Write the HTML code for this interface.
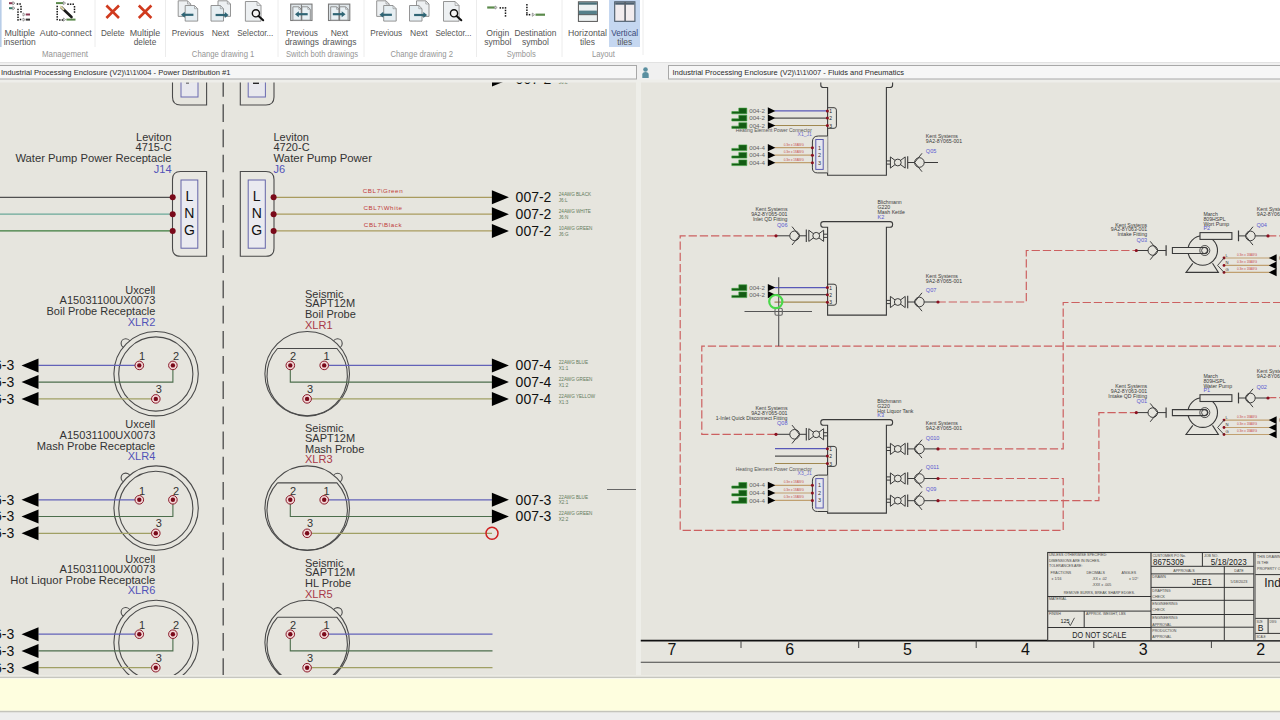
<!DOCTYPE html>
<html><head><meta charset="utf-8"><title>Drawing</title>
<style>
html,body{margin:0;padding:0;background:#fff;}
body{width:1280px;height:720px;overflow:hidden;position:relative;font-family:"Liberation Sans", sans-serif;}
svg{position:absolute;left:0;top:0;}
text{font-family:"Liberation Sans", sans-serif;}
</style></head><body>
<svg width="1280" height="720" viewBox="0 0 1280 720">
<rect x="0" y="0" width="1280" height="62" fill="#ffffff" stroke="none" stroke-width="1" />
<rect x="0" y="62" width="1280" height="18" fill="#f0f0f0" stroke="none" stroke-width="1" />
<line x1="0" y1="62.5" x2="1280" y2="62.5" stroke="#e2e2e2" stroke-width="1" />
<rect x="0" y="80" width="636" height="596" fill="#e6e5de" stroke="none" stroke-width="1" />
<rect x="636" y="80" width="4.5" height="596" fill="#eeeee9" stroke="none" stroke-width="1" />
<rect x="640.5" y="80" width="640" height="596" fill="#e6e5de" stroke="none" stroke-width="1" />
<rect x="0" y="79.5" width="1280" height="3" fill="#eeeeea" stroke="none" stroke-width="1" />
<rect x="0" y="675" width="1280" height="1.6" fill="#ecebe4" stroke="none" stroke-width="1" />
<rect x="0" y="676.6" width="1280" height="1.4" fill="#c6c6be" stroke="none" stroke-width="1" />
<rect x="0" y="678" width="1280" height="1" fill="#f8f8ee" stroke="none" stroke-width="1" />
<rect x="0" y="679" width="1280" height="31.8" fill="#fefedf" stroke="none" stroke-width="1" />
<rect x="0" y="710.8" width="1280" height="1.8" fill="#c4c4bc" stroke="none" stroke-width="1" />
<rect x="0" y="712.6" width="1280" height="7.4" fill="#eeeeee" stroke="none" stroke-width="1" />
<rect x="0" y="0" width="1.6" height="47" fill="#b8cde8" stroke="none" stroke-width="1" />
<rect x="609" y="0" width="31" height="47" fill="#c5d7f0" stroke="none" stroke-width="1" />
<line x1="95" y1="0" x2="95" y2="47" stroke="#ececec" stroke-width="1" />
<line x1="165.5" y1="0" x2="165.5" y2="57" stroke="#ececec" stroke-width="1" />
<line x1="278" y1="0" x2="278" y2="57" stroke="#ececec" stroke-width="1" />
<line x1="364" y1="0" x2="364" y2="57" stroke="#ececec" stroke-width="1" />
<line x1="476.5" y1="0" x2="476.5" y2="57" stroke="#ececec" stroke-width="1" />
<line x1="562" y1="0" x2="562" y2="57" stroke="#ececec" stroke-width="1" />
<line x1="643" y1="0" x2="643" y2="55" stroke="#ececec" stroke-width="1" />
<text x="19.7" y="35.9" font-size="9" fill="#555555" text-anchor="middle" textLength="30.6" lengthAdjust="spacingAndGlyphs">Multiple</text>
<text x="19.7" y="44.9" font-size="9" fill="#555555" text-anchor="middle" textLength="32" lengthAdjust="spacingAndGlyphs">insertion</text>
<text x="65.8" y="35.9" font-size="9" fill="#555555" text-anchor="middle" textLength="52" lengthAdjust="spacingAndGlyphs">Auto-connect</text>
<text x="112.7" y="35.9" font-size="9" fill="#555555" text-anchor="middle" textLength="23.5" lengthAdjust="spacingAndGlyphs">Delete</text>
<text x="145" y="35.9" font-size="9" fill="#555555" text-anchor="middle" textLength="30.6" lengthAdjust="spacingAndGlyphs">Multiple</text>
<text x="145" y="44.9" font-size="9" fill="#555555" text-anchor="middle" textLength="22.5" lengthAdjust="spacingAndGlyphs">delete</text>
<text x="187.8" y="35.9" font-size="9" fill="#555555" text-anchor="middle" textLength="31.9" lengthAdjust="spacingAndGlyphs">Previous</text>
<text x="220.4" y="35.9" font-size="9" fill="#555555" text-anchor="middle" textLength="17.5" lengthAdjust="spacingAndGlyphs">Next</text>
<text x="255.2" y="35.9" font-size="9" fill="#555555" text-anchor="middle" textLength="36" lengthAdjust="spacingAndGlyphs">Selector...</text>
<text x="301.9" y="35.9" font-size="9" fill="#555555" text-anchor="middle" textLength="31.9" lengthAdjust="spacingAndGlyphs">Previous</text>
<text x="301.9" y="44.9" font-size="9" fill="#555555" text-anchor="middle" textLength="34" lengthAdjust="spacingAndGlyphs">drawings</text>
<text x="339.4" y="35.9" font-size="9" fill="#555555" text-anchor="middle" textLength="17.5" lengthAdjust="spacingAndGlyphs">Next</text>
<text x="339.4" y="44.9" font-size="9" fill="#555555" text-anchor="middle" textLength="34" lengthAdjust="spacingAndGlyphs">drawings</text>
<text x="386.25" y="35.9" font-size="9" fill="#555555" text-anchor="middle" textLength="31.9" lengthAdjust="spacingAndGlyphs">Previous</text>
<text x="418.75" y="35.9" font-size="9" fill="#555555" text-anchor="middle" textLength="17.5" lengthAdjust="spacingAndGlyphs">Next</text>
<text x="453.4" y="35.9" font-size="9" fill="#555555" text-anchor="middle" textLength="36" lengthAdjust="spacingAndGlyphs">Selector...</text>
<text x="497.8" y="35.9" font-size="9" fill="#555555" text-anchor="middle" textLength="23" lengthAdjust="spacingAndGlyphs">Origin</text>
<text x="497.8" y="44.9" font-size="9" fill="#555555" text-anchor="middle" textLength="27" lengthAdjust="spacingAndGlyphs">symbol</text>
<text x="535.4" y="35.9" font-size="9" fill="#555555" text-anchor="middle" textLength="42" lengthAdjust="spacingAndGlyphs">Destination</text>
<text x="535.4" y="44.9" font-size="9" fill="#555555" text-anchor="middle" textLength="27" lengthAdjust="spacingAndGlyphs">symbol</text>
<text x="587.5" y="35.9" font-size="9" fill="#555555" text-anchor="middle" textLength="39" lengthAdjust="spacingAndGlyphs">Horizontal</text>
<text x="587.5" y="44.9" font-size="9" fill="#555555" text-anchor="middle" textLength="15" lengthAdjust="spacingAndGlyphs">tiles</text>
<text x="624.7" y="35.9" font-size="9" fill="#3a4a7a" text-anchor="middle" textLength="27" lengthAdjust="spacingAndGlyphs">Vertical</text>
<text x="624.7" y="44.9" font-size="9" fill="#555555" text-anchor="middle" textLength="15" lengthAdjust="spacingAndGlyphs">tiles</text>
<text x="65" y="56.5" font-size="9" fill="#959595" text-anchor="middle" textLength="46" lengthAdjust="spacingAndGlyphs">Management</text>
<text x="223.1" y="56.5" font-size="9" fill="#959595" text-anchor="middle" textLength="62.5" lengthAdjust="spacingAndGlyphs">Change drawing 1</text>
<text x="322" y="56.5" font-size="9" fill="#959595" text-anchor="middle" textLength="72" lengthAdjust="spacingAndGlyphs">Switch both drawings</text>
<text x="421.7" y="56.5" font-size="9" fill="#959595" text-anchor="middle" textLength="62.5" lengthAdjust="spacingAndGlyphs">Change drawing 2</text>
<text x="521.25" y="56.5" font-size="9" fill="#959595" text-anchor="middle" textLength="29" lengthAdjust="spacingAndGlyphs">Symbols</text>
<text x="603.4" y="56.5" font-size="9" fill="#959595" text-anchor="middle" textLength="23" lengthAdjust="spacingAndGlyphs">Layout</text>
<defs><clipPath id="clipL"><rect x="0" y="82.5" width="636" height="592.5"/></clipPath><clipPath id="clipR"><rect x="640.5" y="82.5" width="640" height="592.5"/></clipPath></defs>
<rect x="-1" y="65.5" width="637.5" height="13.5" fill="#f6f6f6" stroke="#a8a8a8" stroke-width="1" />
<text x="1" y="75.3" font-size="8.0" fill="#2a2a2a" text-anchor="start" textLength="229.5" lengthAdjust="spacingAndGlyphs">Industrial Processing Enclosure (V2)\1\1\004 - Power Distribution #1</text>
<rect x="668.5" y="65.5" width="620" height="13.5" fill="#f6f6f6" stroke="#a8a8a8" stroke-width="1" />
<text x="672.5" y="75.3" font-size="8.0" fill="#2a2a2a" text-anchor="start" textLength="231.5" lengthAdjust="spacingAndGlyphs">Industrial Processing Enclosure (V2)\1\1\007 - Fluids and Pneumatics</text>
<circle cx="645.5" cy="69.5" r="2.3" fill="#5a8fa0" stroke="none" stroke-width="1" />
<path d="M642.3,78 L642.3,74.5 Q642.3,72 645.5,72 Q648.7,72 648.7,74.5 L648.7,78 Z" stroke="none" stroke-width="1" fill="#5a8fa0" />
<g clip-path="url(#clipL)">
<line x1="223.2" y1="79.1" x2="223.2" y2="676" stroke="#4a4a4a" stroke-width="1.3" stroke-dasharray="17.7 7.48"/>
<path d="M172.5,78 L172.5,97 Q172.5,105 180.5,105 L206.6,105 L206.6,78" stroke="#4a4a4a" stroke-width="1.1" fill="none" />
<rect x="181" y="74" width="17" height="23" fill="#e8e8ee" stroke="#6a6ab0" stroke-width="1" />
<path d="M240.3,78 L240.3,105 L266,105 Q274,105 274,97 L274,78" stroke="#4a4a4a" stroke-width="1.1" fill="none" />
<rect x="248.2" y="74" width="17.2" height="23" fill="#e8e8ee" stroke="#6a6ab0" stroke-width="1" />
<rect x="186" y="82.5" width="3" height="1" fill="#222" stroke="none" stroke-width="1" />
<rect x="253" y="82.3" width="6" height="1.6" fill="#111" stroke="none" stroke-width="1" />
<path d="M492,72.5 L509,79.5 L492,86.5 Z" stroke="none" stroke-width="1" fill="#000" />
<text x="515.6" y="84.4" font-size="14" fill="#111" text-anchor="start" >007-2</text>
<text x="558.8" y="84" font-size="4.6" fill="#5f7a5a" text-anchor="start" >J6:L</text>
<path d="M180.5,256.3 L206.6,256.3 L206.6,171.5 L180.5,171.5 Q172.5,171.5 172.5,179.5 L172.5,248.3 Q172.5,256.3 180.5,256.3 Z" stroke="#4a4a4a" stroke-width="1.1" fill="#e8e7e1" />
<rect x="181" y="180" width="16.8" height="68.2" fill="#eaeaf0" stroke="#6464a8" stroke-width="1" />
<text x="189.4" y="201" font-size="14" fill="#111" text-anchor="middle" >L</text>
<text x="189.4" y="217.8" font-size="14" fill="#111" text-anchor="middle" >N</text>
<text x="189.4" y="234.7" font-size="14" fill="#111" text-anchor="middle" >G</text>
<text x="171.6" y="141" font-size="11" fill="#333333" text-anchor="end" >Leviton</text>
<text x="171.6" y="150.9" font-size="11" fill="#333333" text-anchor="end" >4715-C</text>
<text x="171.6" y="162.1" font-size="11.2" fill="#333333" text-anchor="end" textLength="156.2" lengthAdjust="spacingAndGlyphs">Water Pump Power Receptacle</text>
<text x="171.6" y="172.8" font-size="11" fill="#5252b8" text-anchor="end" >J14</text>
<line x1="0" y1="197.3" x2="172.5" y2="197.3" stroke="#505050" stroke-width="1.2" />
<line x1="0" y1="214.2" x2="172.5" y2="214.2" stroke="#6aa898" stroke-width="1.2" />
<line x1="0" y1="230.9" x2="172.5" y2="230.9" stroke="#3b7b3b" stroke-width="1.4" />
<circle cx="172.7" cy="197.3" r="3" fill="#7a0a1a" stroke="none" stroke-width="1" />
<circle cx="172.7" cy="214.2" r="3" fill="#7a0a1a" stroke="none" stroke-width="1" />
<circle cx="172.7" cy="230.9" r="3" fill="#7a0a1a" stroke="none" stroke-width="1" />
<path d="M240.3,171.5 L266,171.5 Q274,171.5 274,179.5 L274,248.3 Q274,256.3 266,256.3 L240.3,256.3 Z" stroke="#4a4a4a" stroke-width="1.1" fill="#e8e7e1" />
<rect x="248.2" y="180" width="17.1" height="68.2" fill="#eaeaf0" stroke="#6464a8" stroke-width="1" />
<text x="256.7" y="201" font-size="14" fill="#111" text-anchor="middle" >L</text>
<text x="256.7" y="217.8" font-size="14" fill="#111" text-anchor="middle" >N</text>
<text x="256.7" y="234.7" font-size="14" fill="#111" text-anchor="middle" >G</text>
<text x="273.5" y="141" font-size="11" fill="#333333" text-anchor="start" >Leviton</text>
<text x="273.5" y="150.9" font-size="11" fill="#333333" text-anchor="start" >4720-C</text>
<text x="273.5" y="162.1" font-size="11.2" fill="#333333" text-anchor="start" textLength="98.5" lengthAdjust="spacingAndGlyphs">Water Pump Power</text>
<text x="273.5" y="172.8" font-size="11" fill="#5252b8" text-anchor="start" >J6</text>
<line x1="274" y1="197.3" x2="492" y2="197.3" stroke="#a99b5e" stroke-width="1.25" />
<circle cx="273.6" cy="197.3" r="3" fill="#7a0a1a" stroke="none" stroke-width="1" />
<text x="383" y="193.0" font-size="6.2" fill="#c03838" text-anchor="middle" letter-spacing="0.6">CBL7\Green</text>
<line x1="274" y1="214.2" x2="492" y2="214.2" stroke="#a99b5e" stroke-width="1.25" />
<circle cx="273.6" cy="214.2" r="3" fill="#7a0a1a" stroke="none" stroke-width="1" />
<text x="383" y="209.89999999999998" font-size="6.2" fill="#c03838" text-anchor="middle" letter-spacing="0.6">CBL7\White</text>
<line x1="274" y1="230.9" x2="492" y2="230.9" stroke="#a99b5e" stroke-width="1.25" />
<circle cx="273.6" cy="230.9" r="3" fill="#7a0a1a" stroke="none" stroke-width="1" />
<text x="383" y="226.6" font-size="6.2" fill="#c03838" text-anchor="middle" letter-spacing="0.6">CBL7\Black</text>
<path d="M491.9,190.3 L508.9,197.3 L491.9,204.3 Z" stroke="none" stroke-width="1" fill="#000" />
<text x="515.6" y="202.20000000000002" font-size="14" fill="#111" text-anchor="start" >007-2</text>
<text x="558.8" y="196.0" font-size="4.6" fill="#5f7a5a" text-anchor="start" >24AWG BLACK</text>
<text x="558.8" y="201.9" font-size="4.6" fill="#5f7a5a" text-anchor="start" >J6:L</text>
<path d="M491.9,207.2 L508.9,214.2 L491.9,221.2 Z" stroke="none" stroke-width="1" fill="#000" />
<text x="515.6" y="219.1" font-size="14" fill="#111" text-anchor="start" >007-2</text>
<text x="558.8" y="212.89999999999998" font-size="4.6" fill="#5f7a5a" text-anchor="start" >24AWG WHITE</text>
<text x="558.8" y="218.79999999999998" font-size="4.6" fill="#5f7a5a" text-anchor="start" >J6:N</text>
<path d="M491.9,223.9 L508.9,230.9 L491.9,237.9 Z" stroke="none" stroke-width="1" fill="#000" />
<text x="515.6" y="235.8" font-size="14" fill="#111" text-anchor="start" >007-2</text>
<text x="558.8" y="229.6" font-size="4.6" fill="#5f7a5a" text-anchor="start" >10AWG GREEN</text>
<text x="558.8" y="235.5" font-size="4.6" fill="#5f7a5a" text-anchor="start" >J6:G</text>
<circle cx="125.69999999999999" cy="343.3" r="4.6" fill="none" stroke="#4a4a4a" stroke-width="1.1" />
<circle cx="156.1" cy="373.7" r="42.2" fill="#e6e5de" stroke="#4a4a4a" stroke-width="1.1" />
<circle cx="155.79999999999998" cy="374.0" r="37.1" fill="none" stroke="#4a4a4a" stroke-width="1.1" />
<line x1="38.4" y1="365.4" x2="139.3" y2="365.4" stroke="#6262b8" stroke-width="1.2" />
<path d="M38.4,382.1 L172.9,382.1 L172.9,365.4" stroke="#4c6e4c" stroke-width="1.1" fill="none" />
<line x1="38.4" y1="398.9" x2="155.8" y2="398.9" stroke="#a0a064" stroke-width="1.2" />
<circle cx="139.3" cy="365.4" r="4.3" fill="#f2d6d6" stroke="#8a1a2a" stroke-width="1" />
<circle cx="139.3" cy="365.4" r="2.2" fill="#7a0a1a" stroke="none" stroke-width="1" />
<circle cx="172.9" cy="365.4" r="4.3" fill="#f2d6d6" stroke="#8a1a2a" stroke-width="1" />
<circle cx="172.9" cy="365.4" r="2.2" fill="#7a0a1a" stroke="none" stroke-width="1" />
<circle cx="155.8" cy="398.9" r="4.3" fill="#f2d6d6" stroke="#8a1a2a" stroke-width="1" />
<circle cx="155.8" cy="398.9" r="2.2" fill="#7a0a1a" stroke="none" stroke-width="1" />
<text x="142" y="360.4" font-size="11" fill="#333333" text-anchor="middle" >1</text>
<text x="176" y="360.4" font-size="11" fill="#333333" text-anchor="middle" >2</text>
<text x="158.8" y="393" font-size="11" fill="#333333" text-anchor="middle" >3</text>
<path d="M21.5,365.4 L38.5,358.4 L38.5,372.4 Z" stroke="none" stroke-width="1" fill="#000" />
<text x="14.2" y="370.29999999999995" font-size="14" fill="#111" text-anchor="end" >006-3</text>
<path d="M21.5,382.1 L38.5,375.1 L38.5,389.1 Z" stroke="none" stroke-width="1" fill="#000" />
<text x="14.2" y="387.0" font-size="14" fill="#111" text-anchor="end" >006-3</text>
<path d="M21.5,398.9 L38.5,391.9 L38.5,405.9 Z" stroke="none" stroke-width="1" fill="#000" />
<text x="14.2" y="403.79999999999995" font-size="14" fill="#111" text-anchor="end" >006-3</text>
<text x="155.3" y="294" font-size="11" fill="#333333" text-anchor="end" >Uxcell</text>
<text x="155.3" y="304.4" font-size="11" fill="#333333" text-anchor="end" textLength="95.7" lengthAdjust="spacingAndGlyphs">A15031100UX0073</text>
<text x="155.3" y="315.3" font-size="11" fill="#333333" text-anchor="end" textLength="108.8" lengthAdjust="spacingAndGlyphs">Boil Probe Receptacle</text>
<text x="155.3" y="325.6" font-size="11" fill="#5252b8" text-anchor="end" >XLR2</text>
<circle cx="337.59999999999997" cy="343.40000000000003" r="4.6" fill="none" stroke="#4a4a4a" stroke-width="1.1" />
<circle cx="307.2" cy="373.8" r="42.3" fill="#e6e5de" stroke="#4a4a4a" stroke-width="1.1" />
<path d="M277.4598015371221,348.5 L336.9401984628779,348.5 A40.2,40.2 0 1 1 277.4598015371221,348.5" stroke="#4a4a4a" stroke-width="1.1" fill="none" />
<line x1="324.2" y1="365.4" x2="492" y2="365.4" stroke="#6262b8" stroke-width="1.2" />
<path d="M290.3,365.4 L290.3,382.1 L492,382.1" stroke="#4c6e4c" stroke-width="1.1" fill="none" />
<line x1="307.1" y1="398.9" x2="492" y2="398.9" stroke="#a0a064" stroke-width="1.2" />
<circle cx="290.3" cy="365.4" r="4.3" fill="#f2d6d6" stroke="#8a1a2a" stroke-width="1" />
<circle cx="290.3" cy="365.4" r="2.2" fill="#7a0a1a" stroke="none" stroke-width="1" />
<circle cx="324.2" cy="365.4" r="4.3" fill="#f2d6d6" stroke="#8a1a2a" stroke-width="1" />
<circle cx="324.2" cy="365.4" r="2.2" fill="#7a0a1a" stroke="none" stroke-width="1" />
<circle cx="307.1" cy="398.9" r="4.3" fill="#f2d6d6" stroke="#8a1a2a" stroke-width="1" />
<circle cx="307.1" cy="398.9" r="2.2" fill="#7a0a1a" stroke="none" stroke-width="1" />
<text x="293" y="360.4" font-size="11" fill="#333333" text-anchor="middle" >2</text>
<text x="326.6" y="360.4" font-size="11" fill="#333333" text-anchor="middle" >1</text>
<text x="310" y="393" font-size="11" fill="#333333" text-anchor="middle" >3</text>
<text x="305" y="297.8" font-size="11" fill="#333333" text-anchor="start" >Seismic</text>
<text x="305" y="307.2" font-size="11" fill="#333333" text-anchor="start" >SAPT12M</text>
<text x="305" y="318.4" font-size="11" fill="#333333" text-anchor="start" >Boil Probe</text>
<text x="305" y="328.8" font-size="11" fill="#a83848" text-anchor="start" >XLR1</text>
<path d="M491.9,358.4 L508.9,365.4 L491.9,372.4 Z" stroke="none" stroke-width="1" fill="#000" />
<text x="515.6" y="370.29999999999995" font-size="14" fill="#111" text-anchor="start" >007-4</text>
<text x="558.8" y="364.09999999999997" font-size="4.6" fill="#5f7a5a" text-anchor="start" >22AWG BLUE</text>
<text x="558.8" y="370.0" font-size="4.6" fill="#5f7a5a" text-anchor="start" >X1:1</text>
<path d="M491.9,375.1 L508.9,382.1 L491.9,389.1 Z" stroke="none" stroke-width="1" fill="#000" />
<text x="515.6" y="387.0" font-size="14" fill="#111" text-anchor="start" >007-4</text>
<text x="558.8" y="380.8" font-size="4.6" fill="#5f7a5a" text-anchor="start" >22AWG GREEN</text>
<text x="558.8" y="386.70000000000005" font-size="4.6" fill="#5f7a5a" text-anchor="start" >X1:2</text>
<path d="M491.9,391.9 L508.9,398.9 L491.9,405.9 Z" stroke="none" stroke-width="1" fill="#000" />
<text x="515.6" y="403.79999999999995" font-size="14" fill="#111" text-anchor="start" >007-4</text>
<text x="558.8" y="397.59999999999997" font-size="4.6" fill="#5f7a5a" text-anchor="start" >22AWG YELLOW</text>
<text x="558.8" y="403.5" font-size="4.6" fill="#5f7a5a" text-anchor="start" >X1:3</text>
<circle cx="125.69999999999999" cy="477.70000000000005" r="4.6" fill="none" stroke="#4a4a4a" stroke-width="1.1" />
<circle cx="156.1" cy="508.1" r="42.2" fill="#e6e5de" stroke="#4a4a4a" stroke-width="1.1" />
<circle cx="155.79999999999998" cy="508.40000000000003" r="37.1" fill="none" stroke="#4a4a4a" stroke-width="1.1" />
<line x1="38.4" y1="499.79999999999995" x2="139.3" y2="499.79999999999995" stroke="#6262b8" stroke-width="1.2" />
<path d="M38.4,516.5 L172.9,516.5 L172.9,499.79999999999995" stroke="#4c6e4c" stroke-width="1.1" fill="none" />
<line x1="38.4" y1="533.3" x2="155.8" y2="533.3" stroke="#a0a064" stroke-width="1.2" />
<circle cx="139.3" cy="499.79999999999995" r="4.3" fill="#f2d6d6" stroke="#8a1a2a" stroke-width="1" />
<circle cx="139.3" cy="499.79999999999995" r="2.2" fill="#7a0a1a" stroke="none" stroke-width="1" />
<circle cx="172.9" cy="499.79999999999995" r="4.3" fill="#f2d6d6" stroke="#8a1a2a" stroke-width="1" />
<circle cx="172.9" cy="499.79999999999995" r="2.2" fill="#7a0a1a" stroke="none" stroke-width="1" />
<circle cx="155.8" cy="533.3" r="4.3" fill="#f2d6d6" stroke="#8a1a2a" stroke-width="1" />
<circle cx="155.8" cy="533.3" r="2.2" fill="#7a0a1a" stroke="none" stroke-width="1" />
<text x="142" y="494.79999999999995" font-size="11" fill="#333333" text-anchor="middle" >1</text>
<text x="176" y="494.79999999999995" font-size="11" fill="#333333" text-anchor="middle" >2</text>
<text x="158.8" y="527.4" font-size="11" fill="#333333" text-anchor="middle" >3</text>
<path d="M21.5,499.79999999999995 L38.5,492.79999999999995 L38.5,506.79999999999995 Z" stroke="none" stroke-width="1" fill="#000" />
<text x="14.2" y="504.69999999999993" font-size="14" fill="#111" text-anchor="end" >006-3</text>
<path d="M21.5,516.5 L38.5,509.5 L38.5,523.5 Z" stroke="none" stroke-width="1" fill="#000" />
<text x="14.2" y="521.4" font-size="14" fill="#111" text-anchor="end" >006-3</text>
<path d="M21.5,533.3 L38.5,526.3 L38.5,540.3 Z" stroke="none" stroke-width="1" fill="#000" />
<text x="14.2" y="538.1999999999999" font-size="14" fill="#111" text-anchor="end" >006-3</text>
<text x="155.3" y="428.4" font-size="11" fill="#333333" text-anchor="end" >Uxcell</text>
<text x="155.3" y="438.79999999999995" font-size="11" fill="#333333" text-anchor="end" textLength="95.7" lengthAdjust="spacingAndGlyphs">A15031100UX0073</text>
<text x="155.3" y="449.70000000000005" font-size="11" fill="#333333" text-anchor="end" textLength="118.5" lengthAdjust="spacingAndGlyphs">Mash Probe Receptacle</text>
<text x="155.3" y="460.0" font-size="11" fill="#5252b8" text-anchor="end" >XLR4</text>
<circle cx="337.59999999999997" cy="477.80000000000007" r="4.6" fill="none" stroke="#4a4a4a" stroke-width="1.1" />
<circle cx="307.2" cy="508.20000000000005" r="42.3" fill="#e6e5de" stroke="#4a4a4a" stroke-width="1.1" />
<path d="M277.4598015371221,482.90000000000003 L336.9401984628779,482.90000000000003 A40.2,40.2 0 1 1 277.4598015371221,482.90000000000003" stroke="#4a4a4a" stroke-width="1.1" fill="none" />
<line x1="324.2" y1="499.79999999999995" x2="492" y2="499.79999999999995" stroke="#6262b8" stroke-width="1.2" />
<path d="M290.3,499.79999999999995 L290.3,516.5 L492,516.5" stroke="#4c6e4c" stroke-width="1.1" fill="none" />
<line x1="307.1" y1="533.3" x2="492" y2="533.3" stroke="#a0a064" stroke-width="1.2" />
<circle cx="290.3" cy="499.79999999999995" r="4.3" fill="#f2d6d6" stroke="#8a1a2a" stroke-width="1" />
<circle cx="290.3" cy="499.79999999999995" r="2.2" fill="#7a0a1a" stroke="none" stroke-width="1" />
<circle cx="324.2" cy="499.79999999999995" r="4.3" fill="#f2d6d6" stroke="#8a1a2a" stroke-width="1" />
<circle cx="324.2" cy="499.79999999999995" r="2.2" fill="#7a0a1a" stroke="none" stroke-width="1" />
<circle cx="307.1" cy="533.3" r="4.3" fill="#f2d6d6" stroke="#8a1a2a" stroke-width="1" />
<circle cx="307.1" cy="533.3" r="2.2" fill="#7a0a1a" stroke="none" stroke-width="1" />
<text x="293" y="494.79999999999995" font-size="11" fill="#333333" text-anchor="middle" >2</text>
<text x="326.6" y="494.79999999999995" font-size="11" fill="#333333" text-anchor="middle" >1</text>
<text x="310" y="527.4" font-size="11" fill="#333333" text-anchor="middle" >3</text>
<text x="305" y="432.20000000000005" font-size="11" fill="#333333" text-anchor="start" >Seismic</text>
<text x="305" y="441.6" font-size="11" fill="#333333" text-anchor="start" >SAPT12M</text>
<text x="305" y="452.79999999999995" font-size="11" fill="#333333" text-anchor="start" >Mash Probe</text>
<text x="305" y="463.20000000000005" font-size="11" fill="#a83848" text-anchor="start" >XLR3</text>
<path d="M491.9,492.79999999999995 L508.9,499.79999999999995 L491.9,506.79999999999995 Z" stroke="none" stroke-width="1" fill="#000" />
<text x="515.6" y="504.69999999999993" font-size="14" fill="#111" text-anchor="start" >007-3</text>
<text x="558.8" y="498.49999999999994" font-size="4.6" fill="#5f7a5a" text-anchor="start" >22AWG BLUE</text>
<text x="558.8" y="504.4" font-size="4.6" fill="#5f7a5a" text-anchor="start" >X2:1</text>
<path d="M491.9,509.5 L508.9,516.5 L491.9,523.5 Z" stroke="none" stroke-width="1" fill="#000" />
<text x="515.6" y="521.4" font-size="14" fill="#111" text-anchor="start" >007-3</text>
<text x="558.8" y="515.2" font-size="4.6" fill="#5f7a5a" text-anchor="start" >22AWG GREEN</text>
<text x="558.8" y="521.1" font-size="4.6" fill="#5f7a5a" text-anchor="start" >X2:2</text>
<circle cx="492" cy="533.3" r="6" fill="none" stroke="#d02020" stroke-width="1.5" />
<circle cx="125.69999999999999" cy="612.1" r="4.6" fill="none" stroke="#4a4a4a" stroke-width="1.1" />
<circle cx="156.1" cy="642.5" r="42.2" fill="#e6e5de" stroke="#4a4a4a" stroke-width="1.1" />
<circle cx="155.79999999999998" cy="642.8" r="37.1" fill="none" stroke="#4a4a4a" stroke-width="1.1" />
<line x1="38.4" y1="634.2" x2="139.3" y2="634.2" stroke="#6262b8" stroke-width="1.2" />
<path d="M38.4,650.9000000000001 L172.9,650.9000000000001 L172.9,634.2" stroke="#4c6e4c" stroke-width="1.1" fill="none" />
<line x1="38.4" y1="667.7" x2="155.8" y2="667.7" stroke="#a0a064" stroke-width="1.2" />
<circle cx="139.3" cy="634.2" r="4.3" fill="#f2d6d6" stroke="#8a1a2a" stroke-width="1" />
<circle cx="139.3" cy="634.2" r="2.2" fill="#7a0a1a" stroke="none" stroke-width="1" />
<circle cx="172.9" cy="634.2" r="4.3" fill="#f2d6d6" stroke="#8a1a2a" stroke-width="1" />
<circle cx="172.9" cy="634.2" r="2.2" fill="#7a0a1a" stroke="none" stroke-width="1" />
<circle cx="155.8" cy="667.7" r="4.3" fill="#f2d6d6" stroke="#8a1a2a" stroke-width="1" />
<circle cx="155.8" cy="667.7" r="2.2" fill="#7a0a1a" stroke="none" stroke-width="1" />
<text x="142" y="629.2" font-size="11" fill="#333333" text-anchor="middle" >1</text>
<text x="176" y="629.2" font-size="11" fill="#333333" text-anchor="middle" >2</text>
<text x="158.8" y="661.8" font-size="11" fill="#333333" text-anchor="middle" >3</text>
<path d="M21.5,634.2 L38.5,627.2 L38.5,641.2 Z" stroke="none" stroke-width="1" fill="#000" />
<text x="14.2" y="639.1" font-size="14" fill="#111" text-anchor="end" >006-3</text>
<path d="M21.5,650.9000000000001 L38.5,643.9000000000001 L38.5,657.9000000000001 Z" stroke="none" stroke-width="1" fill="#000" />
<text x="14.2" y="655.8000000000001" font-size="14" fill="#111" text-anchor="end" >006-3</text>
<path d="M21.5,667.7 L38.5,660.7 L38.5,674.7 Z" stroke="none" stroke-width="1" fill="#000" />
<text x="14.2" y="672.6" font-size="14" fill="#111" text-anchor="end" >006-3</text>
<text x="155.3" y="562.8" font-size="11" fill="#333333" text-anchor="end" >Uxcell</text>
<text x="155.3" y="573.2" font-size="11" fill="#333333" text-anchor="end" textLength="95.7" lengthAdjust="spacingAndGlyphs">A15031100UX0073</text>
<text x="155.3" y="584.1" font-size="11" fill="#333333" text-anchor="end" textLength="145" lengthAdjust="spacingAndGlyphs">Hot Liquor Probe Receptacle</text>
<text x="155.3" y="594.4000000000001" font-size="11" fill="#5252b8" text-anchor="end" >XLR6</text>
<circle cx="337.59999999999997" cy="612.2" r="4.6" fill="none" stroke="#4a4a4a" stroke-width="1.1" />
<circle cx="307.2" cy="642.6" r="42.3" fill="#e6e5de" stroke="#4a4a4a" stroke-width="1.1" />
<path d="M277.4598015371221,617.3000000000001 L336.9401984628779,617.3000000000001 A40.2,40.2 0 1 1 277.4598015371221,617.3000000000001" stroke="#4a4a4a" stroke-width="1.1" fill="none" />
<line x1="324.2" y1="634.2" x2="492.5" y2="634.2" stroke="#6262b8" stroke-width="1.2" />
<path d="M290.3,634.2 L290.3,650.9000000000001 L492.5,650.9000000000001" stroke="#4c6e4c" stroke-width="1.1" fill="none" />
<line x1="307.1" y1="667.7" x2="492.5" y2="667.7" stroke="#a0a064" stroke-width="1.2" />
<circle cx="290.3" cy="634.2" r="4.3" fill="#f2d6d6" stroke="#8a1a2a" stroke-width="1" />
<circle cx="290.3" cy="634.2" r="2.2" fill="#7a0a1a" stroke="none" stroke-width="1" />
<circle cx="324.2" cy="634.2" r="4.3" fill="#f2d6d6" stroke="#8a1a2a" stroke-width="1" />
<circle cx="324.2" cy="634.2" r="2.2" fill="#7a0a1a" stroke="none" stroke-width="1" />
<circle cx="307.1" cy="667.7" r="4.3" fill="#f2d6d6" stroke="#8a1a2a" stroke-width="1" />
<circle cx="307.1" cy="667.7" r="2.2" fill="#7a0a1a" stroke="none" stroke-width="1" />
<text x="293" y="629.2" font-size="11" fill="#333333" text-anchor="middle" >2</text>
<text x="326.6" y="629.2" font-size="11" fill="#333333" text-anchor="middle" >1</text>
<text x="310" y="661.8" font-size="11" fill="#333333" text-anchor="middle" >3</text>
<text x="305" y="566.6" font-size="11" fill="#333333" text-anchor="start" >Seismic</text>
<text x="305" y="576.0" font-size="11" fill="#333333" text-anchor="start" >SAPT12M</text>
<text x="305" y="587.2" font-size="11" fill="#333333" text-anchor="start" >HL Probe</text>
<text x="305" y="597.6" font-size="11" fill="#a83848" text-anchor="start" >XLR5</text>
<line x1="607" y1="489.5" x2="637" y2="489.5" stroke="#666" stroke-width="1" />
</g>
<g clip-path="url(#clipR)">
<path d="M775.3,235.8 L680.2,235.8 L680.2,530.3 L1063.2,530.3 L1063.2,478.5 L937.8,478.5" stroke="#cc6060" stroke-width="1.2" fill="none" stroke-dasharray="8.3 2.9"/>
<path d="M937.8,448.9 L1063.2,448.9 L1063.2,302.5 L1290,302.5" stroke="#cc6060" stroke-width="1.2" fill="none" stroke-dasharray="8.3 2.9"/>
<path d="M775.6,434.4 L701.8,434.4 L701.8,346.2 L1290,346.2" stroke="#cc6060" stroke-width="1.2" fill="none" stroke-dasharray="8.3 2.9"/>
<path d="M937.5,302 L1026.3,302 L1026.3,250.5 L1136.3,250.5" stroke="#cc6060" stroke-width="1.2" fill="none" stroke-dasharray="8.3 2.9"/>
<path d="M937.8,500.7 L1098.9,500.7 L1098.9,412.7 L1136.3,412.7" stroke="#cc6060" stroke-width="1.2" fill="none" stroke-dasharray="8.3 2.9"/>
<path d="M1268,235.9 L1290,235.9" stroke="#cc6060" stroke-width="1.2" fill="none" stroke-dasharray="8.3 2.9"/>
<path d="M1268,397.7 L1290,397.7" stroke="#cc6060" stroke-width="1.2" fill="none" stroke-dasharray="8.3 2.9"/>
<path d="M827.6,175.3 L827.6,87.5 L823.4,87.5 Q820.8,87.5 820.8,84.9 L820.8,80.9 Q820.8,78.5 823.4,78.5 L890,78.5 Q892.6,78.5 892.6,80.9 L892.6,84.9 Q892.6,87.5 890,87.5 L886.4,87.5 L886.4,175.3 Z" stroke="#3a3a3a" stroke-width="1.1" fill="none" />
<path d="M827.6,315.09999999999997 L827.6,227.29999999999998 L823.4,227.29999999999998 Q820.8,227.29999999999998 820.8,224.7 L820.8,224.0 Q820.8,221.6 823.4,221.6 L890,221.6 Q892.6,221.6 892.6,224.0 L892.6,224.7 Q892.6,227.29999999999998 890,227.29999999999998 L886.4,227.29999999999998 L886.4,315.09999999999997 Z" stroke="#3a3a3a" stroke-width="1.1" fill="none" />
<path d="M827.6,513.1 L827.6,425.3 L823.4,425.3 Q820.8,425.3 820.8,422.7 L820.8,422.0 Q820.8,419.6 823.4,419.6 L890,419.6 Q892.6,419.6 892.6,422.0 L892.6,422.7 Q892.6,425.3 890,425.3 L886.4,425.3 L886.4,513.1 Z" stroke="#3a3a3a" stroke-width="1.1" fill="none" />
<line x1="886.4" y1="160.9" x2="890.4" y2="160.9" stroke="#3a3a3a" stroke-width="1" />
<line x1="886.4" y1="164.1" x2="890.4" y2="164.1" stroke="#3a3a3a" stroke-width="1" />
<path d="M890.4,156.9 L890.4,168.1 L905.2,156.9 L905.2,168.1 Z" stroke="#3a3a3a" stroke-width="1.0" fill="none" />
<circle cx="897.8" cy="162.5" r="3.4" fill="#e6e5de" stroke="#3a3a3a" stroke-width="1.0" />
<line x1="907.7" y1="156.3" x2="907.7" y2="168.7" stroke="#3a3a3a" stroke-width="1.1" />
<line x1="907.7" y1="162.5" x2="914.6" y2="162.5" stroke="#3a3a3a" stroke-width="1" />
<circle cx="919.4" cy="162.5" r="4.8" fill="none" stroke="#3a3a3a" stroke-width="1.0" />
<path d="M922.0,153.3 L914.6,162.5 L922.0,171.7" stroke="#3a3a3a" stroke-width="1.0" fill="none" />
<line x1="924.2" y1="162.5" x2="938" y2="162.5" stroke="#3a3a3a" stroke-width="1" />
<text x="925.8" y="138.1" font-size="5.2" fill="#3a3a3a" text-anchor="start" >Kent Systems</text>
<text x="925.8" y="143.1" font-size="5.2" fill="#3a3a3a" text-anchor="start" >9A2-8Y065-001</text>
<text x="925.8" y="153.2" font-size="5.6" fill="#5a5ad0" text-anchor="start" >Q05</text>
<line x1="827.6" y1="234.20000000000002" x2="823.6" y2="234.20000000000002" stroke="#3a3a3a" stroke-width="1" />
<line x1="827.6" y1="237.4" x2="823.6" y2="237.4" stroke="#3a3a3a" stroke-width="1" />
<path d="M808.8,230.20000000000002 L808.8,241.4 L823.6,230.20000000000002 L823.6,241.4 Z" stroke="#3a3a3a" stroke-width="1.0" fill="none" />
<circle cx="816.2" cy="235.8" r="3.4" fill="#e6e5de" stroke="#3a3a3a" stroke-width="1.0" />
<line x1="806.3" y1="229.60000000000002" x2="806.3" y2="242.0" stroke="#3a3a3a" stroke-width="1.1" />
<line x1="799.4" y1="235.8" x2="806.3" y2="235.8" stroke="#3a3a3a" stroke-width="1" />
<circle cx="794.6" cy="235.8" r="4.8" fill="none" stroke="#3a3a3a" stroke-width="1.0" />
<path d="M792.0,226.60000000000002 L799.4,235.8 L792.0,245.0" stroke="#3a3a3a" stroke-width="1.0" fill="none" />
<line x1="776.0" y1="235.8" x2="789.8" y2="235.8" stroke="#3a3a3a" stroke-width="1" />
<circle cx="776.0" cy="235.8" r="1.6" fill="#8a1020" stroke="none" stroke-width="1" />
<text x="787.5" y="211.3" font-size="5.2" fill="#3a3a3a" text-anchor="end" >Kent Systems</text>
<text x="787.5" y="216.3" font-size="5.2" fill="#3a3a3a" text-anchor="end" >9A2-8Y065-001</text>
<text x="787.5" y="221.3" font-size="5.2" fill="#3a3a3a" text-anchor="end" >Inlet QD Fitting</text>
<text x="787.5" y="226.5" font-size="5.6" fill="#5a5ad0" text-anchor="end" >Q06</text>
<line x1="886.4" y1="300.4" x2="890.4" y2="300.4" stroke="#3a3a3a" stroke-width="1" />
<line x1="886.4" y1="303.6" x2="890.4" y2="303.6" stroke="#3a3a3a" stroke-width="1" />
<path d="M890.4,296.4 L890.4,307.6 L905.2,296.4 L905.2,307.6 Z" stroke="#3a3a3a" stroke-width="1.0" fill="none" />
<circle cx="897.8" cy="302" r="3.4" fill="#e6e5de" stroke="#3a3a3a" stroke-width="1.0" />
<line x1="907.7" y1="295.8" x2="907.7" y2="308.2" stroke="#3a3a3a" stroke-width="1.1" />
<line x1="907.7" y1="302" x2="914.6" y2="302" stroke="#3a3a3a" stroke-width="1" />
<circle cx="919.4" cy="302" r="4.8" fill="none" stroke="#3a3a3a" stroke-width="1.0" />
<path d="M922.0,292.8 L914.6,302 L922.0,311.2" stroke="#3a3a3a" stroke-width="1.0" fill="none" />
<line x1="924.2" y1="302" x2="938" y2="302" stroke="#3a3a3a" stroke-width="1" />
<circle cx="938" cy="302" r="1.6" fill="#8a1020" stroke="none" stroke-width="1" />
<text x="925.8" y="277.7" font-size="5.2" fill="#3a3a3a" text-anchor="start" >Kent Systems</text>
<text x="925.8" y="282.7" font-size="5.2" fill="#3a3a3a" text-anchor="start" >9A2-8Y065-001</text>
<text x="925.8" y="292.2" font-size="5.6" fill="#5a5ad0" text-anchor="start" >Q07</text>
<text x="877.5" y="204.2" font-size="5.2" fill="#3a3a3a" text-anchor="start" >Blichmann</text>
<text x="877.5" y="209.2" font-size="5.2" fill="#3a3a3a" text-anchor="start" >G220</text>
<text x="877.5" y="214.2" font-size="5.2" fill="#3a3a3a" text-anchor="start" >Mash Kettle</text>
<text x="877.5" y="219" font-size="5.6" fill="#5a5ad0" text-anchor="start" >K2</text>
<line x1="827.6" y1="432.7" x2="823.6" y2="432.7" stroke="#3a3a3a" stroke-width="1" />
<line x1="827.6" y1="435.90000000000003" x2="823.6" y2="435.90000000000003" stroke="#3a3a3a" stroke-width="1" />
<path d="M808.8,428.7 L808.8,439.90000000000003 L823.6,428.7 L823.6,439.90000000000003 Z" stroke="#3a3a3a" stroke-width="1.0" fill="none" />
<circle cx="816.2" cy="434.3" r="3.4" fill="#e6e5de" stroke="#3a3a3a" stroke-width="1.0" />
<line x1="806.3" y1="428.1" x2="806.3" y2="440.5" stroke="#3a3a3a" stroke-width="1.1" />
<line x1="799.4" y1="434.3" x2="806.3" y2="434.3" stroke="#3a3a3a" stroke-width="1" />
<circle cx="794.6" cy="434.3" r="4.8" fill="none" stroke="#3a3a3a" stroke-width="1.0" />
<path d="M792.0,425.1 L799.4,434.3 L792.0,443.5" stroke="#3a3a3a" stroke-width="1.0" fill="none" />
<line x1="776.0" y1="434.3" x2="789.8" y2="434.3" stroke="#3a3a3a" stroke-width="1" />
<circle cx="776.0" cy="434.3" r="1.6" fill="#8a1020" stroke="none" stroke-width="1" />
<text x="787.5" y="409.7" font-size="5.2" fill="#3a3a3a" text-anchor="end" >Kent Systems</text>
<text x="787.5" y="414.7" font-size="5.2" fill="#3a3a3a" text-anchor="end" >9A2-8Y065-001</text>
<text x="787.5" y="419.7" font-size="5.2" fill="#3a3a3a" text-anchor="end" >1-Inlet Quick Disconnect Fitting</text>
<text x="787.5" y="424.8" font-size="5.6" fill="#5a5ad0" text-anchor="end" >Q08</text>
<line x1="886.4" y1="447.29999999999995" x2="890.4" y2="447.29999999999995" stroke="#3a3a3a" stroke-width="1" />
<line x1="886.4" y1="450.5" x2="890.4" y2="450.5" stroke="#3a3a3a" stroke-width="1" />
<path d="M890.4,443.29999999999995 L890.4,454.5 L905.2,443.29999999999995 L905.2,454.5 Z" stroke="#3a3a3a" stroke-width="1.0" fill="none" />
<circle cx="897.8" cy="448.9" r="3.4" fill="#e6e5de" stroke="#3a3a3a" stroke-width="1.0" />
<line x1="907.7" y1="442.7" x2="907.7" y2="455.09999999999997" stroke="#3a3a3a" stroke-width="1.1" />
<line x1="907.7" y1="448.9" x2="914.6" y2="448.9" stroke="#3a3a3a" stroke-width="1" />
<circle cx="919.4" cy="448.9" r="4.8" fill="none" stroke="#3a3a3a" stroke-width="1.0" />
<path d="M922.0,439.7 L914.6,448.9 L922.0,458.09999999999997" stroke="#3a3a3a" stroke-width="1.0" fill="none" />
<line x1="924.2" y1="448.9" x2="938" y2="448.9" stroke="#3a3a3a" stroke-width="1" />
<circle cx="938" cy="448.9" r="1.6" fill="#8a1020" stroke="none" stroke-width="1" />
<line x1="886.4" y1="476.9" x2="890.4" y2="476.9" stroke="#3a3a3a" stroke-width="1" />
<line x1="886.4" y1="480.1" x2="890.4" y2="480.1" stroke="#3a3a3a" stroke-width="1" />
<path d="M890.4,472.9 L890.4,484.1 L905.2,472.9 L905.2,484.1 Z" stroke="#3a3a3a" stroke-width="1.0" fill="none" />
<circle cx="897.8" cy="478.5" r="3.4" fill="#e6e5de" stroke="#3a3a3a" stroke-width="1.0" />
<line x1="907.7" y1="472.3" x2="907.7" y2="484.7" stroke="#3a3a3a" stroke-width="1.1" />
<line x1="907.7" y1="478.5" x2="914.6" y2="478.5" stroke="#3a3a3a" stroke-width="1" />
<circle cx="919.4" cy="478.5" r="4.8" fill="none" stroke="#3a3a3a" stroke-width="1.0" />
<path d="M922.0,469.3 L914.6,478.5 L922.0,487.7" stroke="#3a3a3a" stroke-width="1.0" fill="none" />
<line x1="924.2" y1="478.5" x2="938" y2="478.5" stroke="#3a3a3a" stroke-width="1" />
<circle cx="938" cy="478.5" r="1.6" fill="#8a1020" stroke="none" stroke-width="1" />
<line x1="886.4" y1="499.09999999999997" x2="890.4" y2="499.09999999999997" stroke="#3a3a3a" stroke-width="1" />
<line x1="886.4" y1="502.3" x2="890.4" y2="502.3" stroke="#3a3a3a" stroke-width="1" />
<path d="M890.4,495.09999999999997 L890.4,506.3 L905.2,495.09999999999997 L905.2,506.3 Z" stroke="#3a3a3a" stroke-width="1.0" fill="none" />
<circle cx="897.8" cy="500.7" r="3.4" fill="#e6e5de" stroke="#3a3a3a" stroke-width="1.0" />
<line x1="907.7" y1="494.5" x2="907.7" y2="506.9" stroke="#3a3a3a" stroke-width="1.1" />
<line x1="907.7" y1="500.7" x2="914.6" y2="500.7" stroke="#3a3a3a" stroke-width="1" />
<circle cx="919.4" cy="500.7" r="4.8" fill="none" stroke="#3a3a3a" stroke-width="1.0" />
<path d="M922.0,491.5 L914.6,500.7 L922.0,509.9" stroke="#3a3a3a" stroke-width="1.0" fill="none" />
<line x1="924.2" y1="500.7" x2="938" y2="500.7" stroke="#3a3a3a" stroke-width="1" />
<circle cx="938" cy="500.7" r="1.6" fill="#8a1020" stroke="none" stroke-width="1" />
<text x="925.8" y="425.0" font-size="5.2" fill="#3a3a3a" text-anchor="start" >Kent Systems</text>
<text x="925.8" y="430.0" font-size="5.2" fill="#3a3a3a" text-anchor="start" >9A2-8Y065-001</text>
<text x="925.8" y="439.6" font-size="5.6" fill="#5a5ad0" text-anchor="start" >Q010</text>
<text x="925.8" y="468.7" font-size="5.6" fill="#5a5ad0" text-anchor="start" >Q011</text>
<text x="925.8" y="491.0" font-size="5.6" fill="#5a5ad0" text-anchor="start" >Q09</text>
<text x="877.2" y="402.6" font-size="5.2" fill="#3a3a3a" text-anchor="start" >Blichmann</text>
<text x="877.2" y="407.6" font-size="5.2" fill="#3a3a3a" text-anchor="start" >G220</text>
<text x="877.2" y="412.6" font-size="5.2" fill="#3a3a3a" text-anchor="start" >Hot Liquor Tank</text>
<text x="877.2" y="417.3" font-size="5.6" fill="#5a5ad0" text-anchor="start" >K3</text>
<line x1="774.5" y1="110.9" x2="827.6" y2="110.9" stroke="#5858b8" stroke-width="1.2" />
<line x1="774.5" y1="118.1" x2="827.6" y2="118.1" stroke="#505050" stroke-width="1.2" />
<line x1="774.5" y1="125.5" x2="827.6" y2="125.5" stroke="#a08850" stroke-width="1.2" />
<path d="M827.6,107.7 L834,107.7 Q836.4,107.7 836.4,110.10000000000001 L836.4,125.9 Q836.4,128.3 834,128.3 L827.6,128.3" stroke="#3a3a3a" stroke-width="1" fill="none" />
<circle cx="827.4" cy="110.9" r="1.5" fill="#8a1020" stroke="none" stroke-width="1" />
<text x="829.3" y="112.9" font-size="5" fill="#222" text-anchor="start" >1</text>
<circle cx="827.4" cy="118.1" r="1.5" fill="#8a1020" stroke="none" stroke-width="1" />
<text x="829.3" y="120.1" font-size="5" fill="#222" text-anchor="start" >2</text>
<circle cx="827.4" cy="125.5" r="1.5" fill="#8a1020" stroke="none" stroke-width="1" />
<text x="829.3" y="127.5" font-size="5" fill="#222" text-anchor="start" >3</text>
<path d="M731.8,111.60000000000001 L738.8,111.60000000000001 L738.8,108.10000000000001 L746.8,108.10000000000001 L746.8,113.80000000000001 L731.8,113.80000000000001 Z" stroke="#3aa03a" stroke-width="0.6" fill="#145c14" />
<text x="749.2" y="113.0" font-size="6.2" fill="#626262" text-anchor="start" >004-2</text>
<path d="M767.8,107.30000000000001 L775.4,110.9 L767.8,114.5 Z" stroke="none" stroke-width="1" fill="#000" />
<path d="M731.8,118.8 L738.8,118.8 L738.8,115.3 L746.8,115.3 L746.8,121.0 L731.8,121.0 Z" stroke="#3aa03a" stroke-width="0.6" fill="#145c14" />
<text x="749.2" y="120.19999999999999" font-size="6.2" fill="#626262" text-anchor="start" >004-2</text>
<path d="M767.8,114.5 L775.4,118.1 L767.8,121.69999999999999 Z" stroke="none" stroke-width="1" fill="#000" />
<path d="M731.8,126.2 L738.8,126.2 L738.8,122.7 L746.8,122.7 L746.8,128.4 L731.8,128.4 Z" stroke="#3aa03a" stroke-width="0.6" fill="#145c14" />
<text x="749.2" y="127.6" font-size="6.2" fill="#626262" text-anchor="start" >004-2</text>
<path d="M767.8,121.9 L775.4,125.5 L767.8,129.1 Z" stroke="none" stroke-width="1" fill="#000" />
<text x="811.8" y="131.6" font-size="5.4" fill="#555" text-anchor="end" textLength="76" lengthAdjust="spacingAndGlyphs">Heating Element Power Connector</text>
<text x="811.8" y="136.3" font-size="5" fill="#6a6ad0" text-anchor="end" >X1_J1</text>
<line x1="774.5" y1="147.7" x2="812.4" y2="147.7" stroke="#c0a070" stroke-width="1.2" />
<line x1="774.5" y1="155.2" x2="812.4" y2="155.2" stroke="#c0a070" stroke-width="1.2" />
<line x1="774.5" y1="162.7" x2="812.4" y2="162.7" stroke="#c0a070" stroke-width="1.2" />
<path d="M827.6,136 L818.4,136 Q812.4,136 812.4,142 L812.4,167.9 Q812.4,172.9 817.4,172.9 L827.6,172.9" stroke="#3a3a3a" stroke-width="1" fill="#e6e5de" />
<rect x="815.8" y="139.5" width="7.4" height="29.900000000000006" fill="#e6e6ee" stroke="#5a5ab0" stroke-width="1" />
<circle cx="812.4" cy="147.7" r="1.5" fill="#8a1020" stroke="none" stroke-width="1" />
<text x="819.5" y="149.7" font-size="5.5" fill="#333" text-anchor="middle" >1</text>
<text x="793.7" y="145.5" font-size="3" fill="#c85050" text-anchor="middle" >0.3in x 18AWG</text>
<circle cx="812.4" cy="155.2" r="1.5" fill="#8a1020" stroke="none" stroke-width="1" />
<text x="819.5" y="157.2" font-size="5.5" fill="#333" text-anchor="middle" >2</text>
<text x="793.7" y="153.0" font-size="3" fill="#c85050" text-anchor="middle" >0.3in x 18AWG</text>
<circle cx="812.4" cy="162.7" r="1.5" fill="#8a1020" stroke="none" stroke-width="1" />
<text x="819.5" y="164.7" font-size="5.5" fill="#333" text-anchor="middle" >3</text>
<text x="793.7" y="160.5" font-size="3" fill="#c85050" text-anchor="middle" >0.3in x 18AWG</text>
<path d="M731.8,148.39999999999998 L738.8,148.39999999999998 L738.8,144.89999999999998 L746.8,144.89999999999998 L746.8,150.59999999999997 L731.8,150.59999999999997 Z" stroke="#3aa03a" stroke-width="0.6" fill="#145c14" />
<text x="749.2" y="149.79999999999998" font-size="6.2" fill="#626262" text-anchor="start" >004-4</text>
<path d="M767.8,144.1 L775.4,147.7 L767.8,151.29999999999998 Z" stroke="none" stroke-width="1" fill="#000" />
<path d="M731.8,155.89999999999998 L738.8,155.89999999999998 L738.8,152.39999999999998 L746.8,152.39999999999998 L746.8,158.09999999999997 L731.8,158.09999999999997 Z" stroke="#3aa03a" stroke-width="0.6" fill="#145c14" />
<text x="749.2" y="157.29999999999998" font-size="6.2" fill="#626262" text-anchor="start" >004-4</text>
<path d="M767.8,151.6 L775.4,155.2 L767.8,158.79999999999998 Z" stroke="none" stroke-width="1" fill="#000" />
<path d="M731.8,163.39999999999998 L738.8,163.39999999999998 L738.8,159.89999999999998 L746.8,159.89999999999998 L746.8,165.59999999999997 L731.8,165.59999999999997 Z" stroke="#3aa03a" stroke-width="0.6" fill="#145c14" />
<text x="749.2" y="164.79999999999998" font-size="6.2" fill="#626262" text-anchor="start" >004-4</text>
<path d="M767.8,159.1 L775.4,162.7 L767.8,166.29999999999998 Z" stroke="none" stroke-width="1" fill="#000" />
<line x1="774.5" y1="287.6" x2="827.6" y2="287.6" stroke="#5858b8" stroke-width="1.2" />
<line x1="774.5" y1="294.7" x2="827.6" y2="294.7" stroke="#505050" stroke-width="1.2" />
<line x1="774.5" y1="302.2" x2="827.6" y2="302.2" stroke="#a08850" stroke-width="1.2" />
<path d="M827.6,284.2 L834,284.2 Q836.4,284.2 836.4,286.59999999999997 L836.4,302.8 Q836.4,305.2 834,305.2 L827.6,305.2" stroke="#3a3a3a" stroke-width="1" fill="none" />
<circle cx="827.4" cy="287.6" r="1.5" fill="#8a1020" stroke="none" stroke-width="1" />
<text x="829.3" y="289.6" font-size="5" fill="#222" text-anchor="start" >1</text>
<circle cx="827.4" cy="294.7" r="1.5" fill="#8a1020" stroke="none" stroke-width="1" />
<text x="829.3" y="296.7" font-size="5" fill="#222" text-anchor="start" >2</text>
<circle cx="827.4" cy="302.2" r="1.5" fill="#8a1020" stroke="none" stroke-width="1" />
<text x="829.3" y="304.2" font-size="5" fill="#222" text-anchor="start" >3</text>
<path d="M731.8,288.3 L738.8,288.3 L738.8,284.8 L746.8,284.8 L746.8,290.5 L731.8,290.5 Z" stroke="#3aa03a" stroke-width="0.6" fill="#145c14" />
<text x="749.2" y="289.70000000000005" font-size="6.2" fill="#626262" text-anchor="start" >004-2</text>
<path d="M767.8,284.0 L775.4,287.6 L767.8,291.20000000000005 Z" stroke="none" stroke-width="1" fill="#000" />
<path d="M731.8,295.4 L738.8,295.4 L738.8,291.9 L746.8,291.9 L746.8,297.59999999999997 L731.8,297.59999999999997 Z" stroke="#3aa03a" stroke-width="0.6" fill="#145c14" />
<text x="749.2" y="296.8" font-size="6.2" fill="#626262" text-anchor="start" >004-2</text>
<path d="M767.8,291.09999999999997 L775.4,294.7 L767.8,298.3 Z" stroke="none" stroke-width="1" fill="#000" />
<line x1="775" y1="448.7" x2="827.6" y2="448.7" stroke="#5858b8" stroke-width="1.2" />
<line x1="775" y1="456.1" x2="827.6" y2="456.1" stroke="#505050" stroke-width="1.2" />
<line x1="775" y1="463.5" x2="827.6" y2="463.5" stroke="#a08850" stroke-width="1.2" />
<path d="M827.6,446.4 L834,446.4 Q836.4,446.4 836.4,448.79999999999995 L836.4,464.0 Q836.4,466.4 834,466.4 L827.6,466.4" stroke="#3a3a3a" stroke-width="1" fill="none" />
<circle cx="827.4" cy="448.7" r="1.5" fill="#8a1020" stroke="none" stroke-width="1" />
<text x="829.3" y="450.7" font-size="5" fill="#222" text-anchor="start" >1</text>
<circle cx="827.4" cy="456.1" r="1.5" fill="#8a1020" stroke="none" stroke-width="1" />
<text x="829.3" y="458.1" font-size="5" fill="#222" text-anchor="start" >2</text>
<circle cx="827.4" cy="463.5" r="1.5" fill="#8a1020" stroke="none" stroke-width="1" />
<text x="829.3" y="465.5" font-size="5" fill="#222" text-anchor="start" >3</text>
<text x="811.8" y="470.6" font-size="5.4" fill="#555" text-anchor="end" textLength="76" lengthAdjust="spacingAndGlyphs">Heating Element Power Connector</text>
<text x="811.8" y="475.3" font-size="5" fill="#6a6ad0" text-anchor="end" >X3_J1</text>
<line x1="774.5" y1="485.3" x2="812.4" y2="485.3" stroke="#c0a070" stroke-width="1.2" />
<line x1="774.5" y1="493" x2="812.4" y2="493" stroke="#c0a070" stroke-width="1.2" />
<line x1="774.5" y1="500.4" x2="812.4" y2="500.4" stroke="#c0a070" stroke-width="1.2" />
<path d="M827.6,475.1 L818.4,475.1 Q812.4,475.1 812.4,481.1 L812.4,506.5 Q812.4,511.5 817.4,511.5 L827.6,511.5" stroke="#3a3a3a" stroke-width="1" fill="#e6e5de" />
<rect x="815.8" y="478.6" width="7.4" height="29.399999999999977" fill="#e6e6ee" stroke="#5a5ab0" stroke-width="1" />
<circle cx="812.4" cy="485.3" r="1.5" fill="#8a1020" stroke="none" stroke-width="1" />
<text x="819.5" y="487.3" font-size="5.5" fill="#333" text-anchor="middle" >1</text>
<text x="793.7" y="483.1" font-size="3" fill="#c85050" text-anchor="middle" >0.3in x 18AWG</text>
<circle cx="812.4" cy="493" r="1.5" fill="#8a1020" stroke="none" stroke-width="1" />
<text x="819.5" y="495" font-size="5.5" fill="#333" text-anchor="middle" >2</text>
<text x="793.7" y="490.8" font-size="3" fill="#c85050" text-anchor="middle" >0.3in x 18AWG</text>
<circle cx="812.4" cy="500.4" r="1.5" fill="#8a1020" stroke="none" stroke-width="1" />
<text x="819.5" y="502.4" font-size="5.5" fill="#333" text-anchor="middle" >3</text>
<text x="793.7" y="498.2" font-size="3" fill="#c85050" text-anchor="middle" >0.3in x 18AWG</text>
<path d="M731.8,486.0 L738.8,486.0 L738.8,482.5 L746.8,482.5 L746.8,488.2 L731.8,488.2 Z" stroke="#3aa03a" stroke-width="0.6" fill="#145c14" />
<text x="749.2" y="487.40000000000003" font-size="6.2" fill="#626262" text-anchor="start" >004-4</text>
<path d="M767.8,481.7 L775.4,485.3 L767.8,488.90000000000003 Z" stroke="none" stroke-width="1" fill="#000" />
<path d="M731.8,493.7 L738.8,493.7 L738.8,490.2 L746.8,490.2 L746.8,495.9 L731.8,495.9 Z" stroke="#3aa03a" stroke-width="0.6" fill="#145c14" />
<text x="749.2" y="495.1" font-size="6.2" fill="#626262" text-anchor="start" >004-4</text>
<path d="M767.8,489.4 L775.4,493 L767.8,496.6 Z" stroke="none" stroke-width="1" fill="#000" />
<path d="M731.8,501.09999999999997 L738.8,501.09999999999997 L738.8,497.59999999999997 L746.8,497.59999999999997 L746.8,503.29999999999995 L731.8,503.29999999999995 Z" stroke="#3aa03a" stroke-width="0.6" fill="#145c14" />
<text x="749.2" y="502.5" font-size="6.2" fill="#626262" text-anchor="start" >004-4</text>
<path d="M767.8,496.79999999999995 L775.4,500.4 L767.8,504.0 Z" stroke="none" stroke-width="1" fill="#000" />
<line x1="778.7" y1="277.3" x2="778.7" y2="346.2" stroke="#555" stroke-width="1.1" />
<line x1="744.5" y1="311.5" x2="812" y2="311.5" stroke="#555" stroke-width="1.1" />
<rect x="775" y="308.2" width="7.3" height="7" fill="none" stroke="#666" stroke-width="1.1" rx="1.5"/>
<circle cx="775.8" cy="301.6" r="6.6" fill="none" stroke="#4ad84a" stroke-width="2.2" />
<line x1="1136.3" y1="250.5" x2="1148.2" y2="250.5" stroke="#3a3a3a" stroke-width="1" />
<circle cx="1136.3" cy="250.5" r="1.6" fill="#8a1020" stroke="none" stroke-width="1" />
<circle cx="1152.8" cy="250.5" r="4.8" fill="none" stroke="#3a3a3a" stroke-width="1.0" />
<path d="M1150.2,241.3 L1157.6,250.5 L1150.2,259.7" stroke="#3a3a3a" stroke-width="1.0" fill="none" />
<line x1="1157.6" y1="250.5" x2="1166.1" y2="250.5" stroke="#3a3a3a" stroke-width="1" />
<line x1="1166.1" y1="245.3" x2="1166.1" y2="255.7" stroke="#3a3a3a" stroke-width="1.2" />
<path d="M1192.8,263.3 L1186,272.4 L1218.4,272.4 L1212.5,263.3" stroke="#3a3a3a" stroke-width="1.1" fill="#e6e5de" />
<circle cx="1202.7" cy="250.5" r="14.8" fill="#e6e5de" stroke="#3a3a3a" stroke-width="1.1" />
<rect x="1200" y="232.6" width="31.9" height="6.8" fill="#e6e5de" stroke="#3a3a3a" stroke-width="1.1" />
<path d="M1172.4,247.5 L1204.5,247.5 A3,3 0 0 1 1204.5,253.5 L1172.4,253.5 Z" stroke="#3a3a3a" stroke-width="1.1" fill="#e6e5de" />
<circle cx="1204.8" cy="250.5" r="5" fill="none" stroke="#3a3a3a" stroke-width="0.9" />
<circle cx="1204.8" cy="250.5" r="3.2" fill="none" stroke="#3a3a3a" stroke-width="0.9" />
<line x1="1238.5" y1="230.5" x2="1238.5" y2="241.3" stroke="#3a3a3a" stroke-width="1.2" />
<line x1="1238.5" y1="235.9" x2="1245.6" y2="235.9" stroke="#3a3a3a" stroke-width="1" />
<circle cx="1250.4" cy="235.9" r="4.8" fill="none" stroke="#3a3a3a" stroke-width="1.0" />
<path d="M1253.0,226.70000000000002 L1245.6000000000001,235.9 L1253.0,245.1" stroke="#3a3a3a" stroke-width="1.0" fill="none" />
<line x1="1255.2" y1="235.9" x2="1268" y2="235.9" stroke="#3a3a3a" stroke-width="1" />
<circle cx="1268" cy="235.9" r="1.6" fill="#8a1020" stroke="none" stroke-width="1" />
<line x1="1224" y1="258.0" x2="1270" y2="258.0" stroke="#c0a070" stroke-width="1.2" />
<circle cx="1224" cy="258.0" r="1.4" fill="#8a1020" stroke="none" stroke-width="1" />
<path d="M1268.8,258.0 L1276.6,254.2 L1276.6,261.8 Z" stroke="none" stroke-width="1" fill="#000" />
<text x="1247" y="255.8" font-size="3" fill="#c85050" text-anchor="middle" >0.3in x 18AWG</text>
<text x="1225.5" y="256.7" font-size="4.2" fill="#333" text-anchor="start" >L</text>
<line x1="1224" y1="265.4" x2="1270" y2="265.4" stroke="#c0a070" stroke-width="1.2" />
<circle cx="1224" cy="265.4" r="1.4" fill="#8a1020" stroke="none" stroke-width="1" />
<path d="M1268.8,265.4 L1276.6,261.59999999999997 L1276.6,269.2 Z" stroke="none" stroke-width="1" fill="#000" />
<text x="1247" y="263.2" font-size="3" fill="#c85050" text-anchor="middle" >0.3in x 18AWG</text>
<text x="1225.5" y="264.09999999999997" font-size="4.2" fill="#333" text-anchor="start" >N</text>
<line x1="1224" y1="272.4" x2="1270" y2="272.4" stroke="#c0a070" stroke-width="1.2" />
<circle cx="1224" cy="272.4" r="1.4" fill="#8a1020" stroke="none" stroke-width="1" />
<path d="M1268.8,272.4 L1276.6,268.59999999999997 L1276.6,276.2 Z" stroke="none" stroke-width="1" fill="#000" />
<text x="1247" y="270.2" font-size="3" fill="#c85050" text-anchor="middle" >0.3in x 18AWG</text>
<text x="1225.5" y="271.09999999999997" font-size="4.2" fill="#333" text-anchor="start" >G</text>
<path d="M1224,258.0 L1217.6,265.4 L1224,272.4" stroke="#3a3a3a" stroke-width="0.9" fill="none" />
<text x="1279" y="260.0" font-size="5" fill="#333" text-anchor="start" >G</text>
<text x="1203.4" y="216.2" font-size="5.2" fill="#3a3a3a" text-anchor="start" >March</text>
<text x="1203.4" y="221.0" font-size="5.2" fill="#3a3a3a" text-anchor="start" >809HSPL</text>
<text x="1203.4" y="225.79999999999998" font-size="5.2" fill="#3a3a3a" text-anchor="start" >Wort Pump</text>
<text x="1203.4" y="230.2" font-size="5.6" fill="#5a5ad0" text-anchor="start" >P2</text>
<text x="1147.2" y="226.6" font-size="5.2" fill="#3a3a3a" text-anchor="end" >Kent Systems</text>
<text x="1147.2" y="231.4" font-size="5.2" fill="#3a3a3a" text-anchor="end" >9A2-8Y063-001</text>
<text x="1147.2" y="236" font-size="5.2" fill="#3a3a3a" text-anchor="end" >Intake Fitting</text>
<text x="1147.2" y="241.5" font-size="5.6" fill="#5a5ad0" text-anchor="end" >Q03</text>
<text x="1256.8" y="211.3" font-size="5.2" fill="#3a3a3a" text-anchor="start" >Kent Systems</text>
<text x="1256.8" y="215.8" font-size="5.2" fill="#3a3a3a" text-anchor="start" >9A2-8Y063-001</text>
<text x="1256.4" y="226.7" font-size="5.6" fill="#5a5ad0" text-anchor="start" >Q04</text>
<line x1="1136.3" y1="412.6" x2="1148.2" y2="412.6" stroke="#3a3a3a" stroke-width="1" />
<circle cx="1136.3" cy="412.6" r="1.6" fill="#8a1020" stroke="none" stroke-width="1" />
<circle cx="1152.8" cy="412.6" r="4.8" fill="none" stroke="#3a3a3a" stroke-width="1.0" />
<path d="M1150.2,403.40000000000003 L1157.6,412.6 L1150.2,421.8" stroke="#3a3a3a" stroke-width="1.0" fill="none" />
<line x1="1157.6" y1="412.6" x2="1166.1" y2="412.6" stroke="#3a3a3a" stroke-width="1" />
<line x1="1166.1" y1="407.40000000000003" x2="1166.1" y2="417.8" stroke="#3a3a3a" stroke-width="1.2" />
<path d="M1192.8,425.40000000000003 L1186,434.5 L1218.4,434.5 L1212.5,425.40000000000003" stroke="#3a3a3a" stroke-width="1.1" fill="#e6e5de" />
<circle cx="1202.7" cy="412.6" r="14.8" fill="#e6e5de" stroke="#3a3a3a" stroke-width="1.1" />
<rect x="1200" y="394.70000000000005" width="31.9" height="6.8" fill="#e6e5de" stroke="#3a3a3a" stroke-width="1.1" />
<path d="M1172.4,409.6 L1204.5,409.6 A3,3 0 0 1 1204.5,415.6 L1172.4,415.6 Z" stroke="#3a3a3a" stroke-width="1.1" fill="#e6e5de" />
<circle cx="1204.8" cy="412.6" r="5" fill="none" stroke="#3a3a3a" stroke-width="0.9" />
<circle cx="1204.8" cy="412.6" r="3.2" fill="none" stroke="#3a3a3a" stroke-width="0.9" />
<line x1="1238.5" y1="392.6" x2="1238.5" y2="403.4" stroke="#3a3a3a" stroke-width="1.2" />
<line x1="1238.5" y1="398.0" x2="1245.6" y2="398.0" stroke="#3a3a3a" stroke-width="1" />
<circle cx="1250.4" cy="398.0" r="4.8" fill="none" stroke="#3a3a3a" stroke-width="1.0" />
<path d="M1253.0,388.8 L1245.6000000000001,398.0 L1253.0,407.2" stroke="#3a3a3a" stroke-width="1.0" fill="none" />
<line x1="1255.2" y1="398.0" x2="1268" y2="398.0" stroke="#3a3a3a" stroke-width="1" />
<circle cx="1268" cy="398.0" r="1.6" fill="#8a1020" stroke="none" stroke-width="1" />
<line x1="1224" y1="420.1" x2="1270" y2="420.1" stroke="#c0a070" stroke-width="1.2" />
<circle cx="1224" cy="420.1" r="1.4" fill="#8a1020" stroke="none" stroke-width="1" />
<path d="M1268.8,420.1 L1276.6,416.3 L1276.6,423.90000000000003 Z" stroke="none" stroke-width="1" fill="#000" />
<text x="1247" y="417.90000000000003" font-size="3" fill="#c85050" text-anchor="middle" >0.3in x 18AWG</text>
<text x="1225.5" y="418.8" font-size="4.2" fill="#333" text-anchor="start" >L</text>
<line x1="1224" y1="427.5" x2="1270" y2="427.5" stroke="#c0a070" stroke-width="1.2" />
<circle cx="1224" cy="427.5" r="1.4" fill="#8a1020" stroke="none" stroke-width="1" />
<path d="M1268.8,427.5 L1276.6,423.7 L1276.6,431.3 Z" stroke="none" stroke-width="1" fill="#000" />
<text x="1247" y="425.3" font-size="3" fill="#c85050" text-anchor="middle" >0.3in x 18AWG</text>
<text x="1225.5" y="426.2" font-size="4.2" fill="#333" text-anchor="start" >N</text>
<line x1="1224" y1="434.5" x2="1270" y2="434.5" stroke="#c0a070" stroke-width="1.2" />
<circle cx="1224" cy="434.5" r="1.4" fill="#8a1020" stroke="none" stroke-width="1" />
<path d="M1268.8,434.5 L1276.6,430.7 L1276.6,438.3 Z" stroke="none" stroke-width="1" fill="#000" />
<text x="1247" y="432.3" font-size="3" fill="#c85050" text-anchor="middle" >0.3in x 18AWG</text>
<text x="1225.5" y="433.2" font-size="4.2" fill="#333" text-anchor="start" >G</text>
<path d="M1224,420.1 L1217.6,427.5 L1224,434.5" stroke="#3a3a3a" stroke-width="0.9" fill="none" />
<text x="1279" y="422.1" font-size="5" fill="#333" text-anchor="start" >G</text>
<text x="1203.4" y="378.29999999999995" font-size="5.2" fill="#3a3a3a" text-anchor="start" >March</text>
<text x="1203.4" y="383.09999999999997" font-size="5.2" fill="#3a3a3a" text-anchor="start" >809HSPL</text>
<text x="1203.4" y="387.9" font-size="5.2" fill="#3a3a3a" text-anchor="start" >Water Pump</text>
<text x="1203.4" y="392.29999999999995" font-size="5.6" fill="#5a5ad0" text-anchor="start" >P1</text>
<text x="1147.2" y="388.1" font-size="5.2" fill="#3a3a3a" text-anchor="end" >Kent Systems</text>
<text x="1147.2" y="393.1" font-size="5.2" fill="#3a3a3a" text-anchor="end" >9A2-8Y063-001</text>
<text x="1147.2" y="398.1" font-size="5.2" fill="#3a3a3a" text-anchor="end" >Intake QD Fitting</text>
<text x="1147.2" y="403.1" font-size="5.6" fill="#5a5ad0" text-anchor="end" >Q01</text>
<text x="1256.8" y="373.4" font-size="5.2" fill="#3a3a3a" text-anchor="start" >Kent Systems</text>
<text x="1256.8" y="377.9" font-size="5.2" fill="#3a3a3a" text-anchor="start" >9A2-8Y063-001</text>
<text x="1256.4" y="388.79999999999995" font-size="5.6" fill="#5a5ad0" text-anchor="start" >Q02</text>
<line x1="640.5" y1="640.6" x2="1280" y2="640.6" stroke="#111" stroke-width="1.6" />
<line x1="640.5" y1="662.2" x2="1280" y2="662.2" stroke="#444" stroke-width="1.1" />
<line x1="741" y1="640.6" x2="741" y2="648" stroke="#444" stroke-width="1" />
<line x1="858.7" y1="640.6" x2="858.7" y2="648" stroke="#444" stroke-width="1" />
<line x1="976.2" y1="640.6" x2="976.2" y2="648" stroke="#444" stroke-width="1" />
<line x1="1093.8" y1="640.6" x2="1093.8" y2="648" stroke="#444" stroke-width="1" />
<line x1="1211.4" y1="640.6" x2="1211.4" y2="648" stroke="#444" stroke-width="1" />
<text x="672" y="655.3" font-size="16" fill="#111" text-anchor="middle" >7</text>
<text x="789.8" y="655.3" font-size="16" fill="#111" text-anchor="middle" >6</text>
<text x="907.4" y="655.3" font-size="16" fill="#111" text-anchor="middle" >5</text>
<text x="1025.4" y="655.3" font-size="16" fill="#111" text-anchor="middle" >4</text>
<text x="1143.3" y="655.3" font-size="16" fill="#111" text-anchor="middle" >3</text>
<text x="1260.8" y="655.3" font-size="16" fill="#111" text-anchor="middle" >2</text>
<rect x="1047.7" y="552.5" width="240" height="88.1" fill="#e6e5de" stroke="#333" stroke-width="1.1" />
<line x1="1151" y1="552.5" x2="1151" y2="640.6" stroke="#333" stroke-width="1.1" />
<line x1="1253.9" y1="552.5" x2="1253.9" y2="640.6" stroke="#333" stroke-width="1.1" />
<line x1="1255.3" y1="552.5" x2="1255.3" y2="640.6" stroke="#333" stroke-width="0.6" />
<line x1="1047.7" y1="596.5" x2="1151" y2="596.5" stroke="#333" stroke-width="1" />
<line x1="1047.7" y1="611.1" x2="1151" y2="611.1" stroke="#333" stroke-width="1" />
<line x1="1047.7" y1="627.5" x2="1151" y2="627.5" stroke="#333" stroke-width="1" />
<line x1="1084.2" y1="611.1" x2="1084.2" y2="627.5" stroke="#333" stroke-width="1" />
<line x1="1202.4" y1="552.5" x2="1202.4" y2="566.3" stroke="#333" stroke-width="1" />
<line x1="1151" y1="566.3" x2="1253.9" y2="566.3" stroke="#333" stroke-width="1" />
<line x1="1151" y1="573.9" x2="1253.9" y2="573.9" stroke="#333" stroke-width="1" />
<line x1="1151" y1="587.4" x2="1253.9" y2="587.4" stroke="#333" stroke-width="1" />
<line x1="1151" y1="600.3" x2="1253.9" y2="600.3" stroke="#333" stroke-width="1" />
<line x1="1151" y1="614.5" x2="1253.9" y2="614.5" stroke="#333" stroke-width="1" />
<line x1="1151" y1="627.2" x2="1253.9" y2="627.2" stroke="#333" stroke-width="1" />
<line x1="1224.3" y1="566.3" x2="1224.3" y2="640.6" stroke="#333" stroke-width="1" />
<line x1="1255.3" y1="574.6" x2="1290" y2="574.6" stroke="#333" stroke-width="1" />
<line x1="1255.3" y1="618.4" x2="1290" y2="618.4" stroke="#333" stroke-width="1" />
<line x1="1255.3" y1="633.4" x2="1290" y2="633.4" stroke="#333" stroke-width="1" />
<line x1="1268.1" y1="618.4" x2="1268.1" y2="633.4" stroke="#333" stroke-width="1" />
<text x="1049" y="556.3" font-size="3.6" fill="#444" text-anchor="start" >UNLESS OTHERWISE SPECIFIED:</text>
<text x="1049" y="561.8" font-size="3.6" fill="#444" text-anchor="start" >DIMENSIONS ARE IN INCHES.</text>
<text x="1049" y="567.3" font-size="3.6" fill="#444" text-anchor="start" >TOLERANCES ARE:</text>
<text x="1050.5" y="573.8" font-size="3.6" fill="#444" text-anchor="start" >FRACTIONS</text>
<text x="1086.5" y="573.8" font-size="3.6" fill="#444" text-anchor="start" >DECIMALS</text>
<text x="1121.5" y="573.8" font-size="3.6" fill="#444" text-anchor="start" >ANGLES</text>
<text x="1051.5" y="580.2" font-size="3.6" fill="#444" text-anchor="start" >± 1/16</text>
<text x="1092" y="580.2" font-size="3.6" fill="#444" text-anchor="start" >.XX  ± .02</text>
<text x="1129" y="580.2" font-size="3.6" fill="#444" text-anchor="start" >± 1/2°</text>
<text x="1092" y="585.6" font-size="3.6" fill="#444" text-anchor="start" >.XXX ± .005</text>
<text x="1099.3" y="594" font-size="3.6" fill="#444" text-anchor="middle" >REMOVE BURRS, BREAK SHARP EDGES.</text>
<text x="1049" y="600.2" font-size="3.6" fill="#444" text-anchor="start" >MATERIAL</text>
<text x="1049" y="615" font-size="3.6" fill="#444" text-anchor="start" >FINISH</text>
<text x="1086" y="615" font-size="3.6" fill="#444" text-anchor="start" >APPROX. WEIGHT, LBS</text>
<text x="1060.5" y="623.3" font-size="5.5" fill="#222" text-anchor="start" >125</text>
<path d="M1068,622 L1070.3,625.6 L1074.5,617.8" stroke="#333" stroke-width="0.8" fill="none" />
<text x="1099.3" y="637.5" font-size="8.2" fill="#222" text-anchor="middle" textLength="54" lengthAdjust="spacingAndGlyphs">DO NOT SCALE</text>
<text x="1152.5" y="556.6" font-size="3.6" fill="#444" text-anchor="start" >CUSTOMER PO No.</text>
<text x="1153" y="564.6" font-size="8.6" fill="#222" text-anchor="start" textLength="31" lengthAdjust="spacingAndGlyphs">8675309</text>
<text x="1204" y="556.6" font-size="3.6" fill="#444" text-anchor="start" >JOB NO.</text>
<text x="1246.8" y="564.5" font-size="9.6" fill="#222" text-anchor="end" textLength="36" lengthAdjust="spacingAndGlyphs">5/18/2023</text>
<text x="1184" y="571.7" font-size="3.6" fill="#444" text-anchor="middle" >APPROVALS</text>
<text x="1239" y="571.7" font-size="3.6" fill="#444" text-anchor="middle" >DATE</text>
<text x="1152.3" y="578" font-size="3.6" fill="#444" text-anchor="start" >DRAWN</text>
<text x="1202" y="584.5" font-size="8.4" fill="#222" text-anchor="middle" >JEE1</text>
<text x="1239" y="582.5" font-size="3.8" fill="#444" text-anchor="middle" >5/18/2023</text>
<text x="1152.3" y="591.9" font-size="3.6" fill="#444" text-anchor="start" >DRAFTING</text>
<text x="1152.3" y="598.4" font-size="3.6" fill="#444" text-anchor="start" >CHECK</text>
<text x="1152.3" y="604.8" font-size="3.6" fill="#444" text-anchor="start" >ENGINEERING</text>
<text x="1152.3" y="611.3" font-size="3.6" fill="#444" text-anchor="start" >CHECK</text>
<text x="1152.3" y="619.0" font-size="3.6" fill="#444" text-anchor="start" >ENGINEERING</text>
<text x="1152.3" y="625.5" font-size="3.6" fill="#444" text-anchor="start" >APPROVAL</text>
<text x="1152.3" y="631.7" font-size="3.6" fill="#444" text-anchor="start" >PRODUCTION</text>
<text x="1152.3" y="638.2" font-size="3.6" fill="#444" text-anchor="start" >APPROVAL</text>
<text x="1257" y="558" font-size="3.6" fill="#444" text-anchor="start" >THIS DRAWING</text>
<text x="1257" y="563.8" font-size="3.6" fill="#444" text-anchor="start" >IS THE</text>
<text x="1257" y="569.5" font-size="3.6" fill="#444" text-anchor="start" >PROPERTY OF</text>
<text x="1264.2" y="586.7" font-size="12" fill="#222" text-anchor="start" >Industrial</text>
<text x="1256.5" y="622.5" font-size="2.8" fill="#444" text-anchor="start" >SIZE</text>
<text x="1260.7" y="630.5" font-size="8.5" fill="#222" text-anchor="middle" >B</text>
<text x="1269.5" y="622.5" font-size="2.8" fill="#444" text-anchor="start" >DWG</text>
<text x="1256.5" y="638.3" font-size="2.8" fill="#444" text-anchor="start" >SCALE</text>
</g>
<line x1="9" y1="3.2" x2="12.6" y2="3.2" stroke="#8a3a55" stroke-width="2" />
<path d="M12.8,1.6 L15.0,3.2 L12.8,4.800000000000001 Z" stroke="#777" stroke-width="0.7" fill="#fff" />
<line x1="9" y1="8.2" x2="12.6" y2="8.2" stroke="#3a7a6a" stroke-width="2" />
<path d="M12.8,6.6 L15.0,8.2 L12.8,9.799999999999999 Z" stroke="#777" stroke-width="0.7" fill="#fff" />
<rect x="16.75" y="3.25" width="1.5" height="1.5" fill="#111" stroke="none" stroke-width="1" />
<rect x="19.35" y="3.25" width="1.5" height="1.5" fill="#111" stroke="none" stroke-width="1" />
<rect x="20.25" y="5.85" width="1.5" height="1.5" fill="#111" stroke="none" stroke-width="1" />
<rect x="20.25" y="8.45" width="1.5" height="1.5" fill="#111" stroke="none" stroke-width="1" />
<rect x="20.25" y="11.049999999999999" width="1.5" height="1.5" fill="#111" stroke="none" stroke-width="1" />
<rect x="17.25" y="8.75" width="1.5" height="1.5" fill="#111" stroke="none" stroke-width="1" />
<rect x="17.25" y="11.35" width="1.5" height="1.5" fill="#111" stroke="none" stroke-width="1" />
<rect x="17.25" y="13.95" width="1.5" height="1.5" fill="#111" stroke="none" stroke-width="1" />
<rect x="17.25" y="16.55" width="1.5" height="1.5" fill="#111" stroke="none" stroke-width="1" />
<rect x="17.25" y="19.150000000000002" width="1.5" height="1.5" fill="#111" stroke="none" stroke-width="1" />
<rect x="19.75" y="18.75" width="1.5" height="1.5" fill="#111" stroke="none" stroke-width="1" />
<path d="M23,12.9 L25.2,14.5 L23,16.1 Z" stroke="#777" stroke-width="0.7" fill="#fff" />
<line x1="25.8" y1="14.5" x2="30" y2="14.5" stroke="#8a3a55" stroke-width="2" />
<path d="M23,18.0 L25.2,19.6 L23,21.200000000000003 Z" stroke="#777" stroke-width="0.7" fill="#fff" />
<line x1="25.8" y1="19.6" x2="30" y2="19.6" stroke="#333" stroke-width="2" />
<line x1="56" y1="3.1" x2="63" y2="3.1" stroke="#5b8a4b" stroke-width="2" />
<path d="M63.4,1.5 L65.6,3.1 L63.4,4.7 Z" stroke="#777" stroke-width="0.7" fill="#fff" />
<rect x="67.25" y="3.45" width="1.5" height="1.5" fill="#111" stroke="none" stroke-width="1" />
<rect x="69.85" y="3.45" width="1.5" height="1.5" fill="#111" stroke="none" stroke-width="1" />
<rect x="72.44999999999999" y="3.45" width="1.5" height="1.5" fill="#111" stroke="none" stroke-width="1" />
<rect x="73.75" y="6.05" width="1.5" height="1.5" fill="#111" stroke="none" stroke-width="1" />
<rect x="73.75" y="8.65" width="1.5" height="1.5" fill="#111" stroke="none" stroke-width="1" />
<rect x="73.75" y="11.25" width="1.5" height="1.5" fill="#111" stroke="none" stroke-width="1" />
<rect x="56.45" y="5.75" width="1.5" height="1.5" fill="#111" stroke="none" stroke-width="1" />
<rect x="56.45" y="8.35" width="1.5" height="1.5" fill="#111" stroke="none" stroke-width="1" />
<rect x="56.45" y="10.95" width="1.5" height="1.5" fill="#111" stroke="none" stroke-width="1" />
<rect x="56.45" y="13.549999999999999" width="1.5" height="1.5" fill="#111" stroke="none" stroke-width="1" />
<rect x="56.45" y="16.15" width="1.5" height="1.5" fill="#111" stroke="none" stroke-width="1" />
<rect x="56.45" y="18.75" width="1.5" height="1.5" fill="#111" stroke="none" stroke-width="1" />
<rect x="59.05" y="19.25" width="1.5" height="1.5" fill="#111" stroke="none" stroke-width="1" />
<rect x="61.65" y="19.25" width="1.5" height="1.5" fill="#111" stroke="none" stroke-width="1" />
<path d="M63.4,18.0 L65.6,19.6 L63.4,21.200000000000003 Z" stroke="#777" stroke-width="0.7" fill="#fff" />
<line x1="66.4" y1="19.6" x2="75.5" y2="19.6" stroke="#5b8a4b" stroke-width="2" />
<line x1="61.5" y1="7.5" x2="71.5" y2="17" stroke="#1a1a1a" stroke-width="2.6" stroke-linecap="round"/>
<line x1="60.5" y1="6.5" x2="63.5" y2="9.3" stroke="#e8e0b0" stroke-width="1.8" stroke-linecap="round"/>
<path d="M106.4,5.5 L119.0,18 M119.0,5.5 L106.4,18" stroke="#d03a1e" stroke-width="2.6" fill="none" stroke-linecap="butt"/>
<path d="M138.79999999999998,5.5 L151.4,18 M151.4,5.5 L138.79999999999998,18" stroke="#d03a1e" stroke-width="2.6" fill="none" stroke-linecap="butt"/>
<path d="M178.2,0.8 L187.5,0.8 L190.7,4.0 L190.7,16.4 L178.2,16.4 Z" stroke="#8a8a8a" stroke-width="0.9" fill="#edf0f2" />
<path d="M187.5,0.8 L187.5,4.0 L190.7,4.0" stroke="#8a8a8a" stroke-width="0.6" fill="none" />
<path d="M185.2,5.5 L194.5,5.5 L197.7,8.7 L197.7,21.1 L185.2,21.1 Z" stroke="#8a8a8a" stroke-width="0.9" fill="#e6eef2" />
<path d="M194.5,5.5 L194.5,8.7 L197.7,8.7" stroke="#8a8a8a" stroke-width="0.6" fill="none" />
<line x1="184" y1="14.8" x2="193.4" y2="14.8" stroke="#2f6575" stroke-width="2.2" />
<path d="M181,14.8 L184.8,11.8 L184.8,17.8 Z" stroke="none" stroke-width="1" fill="#2f6575" />
<path d="M218,0.8 L227.3,0.8 L230.5,4.0 L230.5,16.4 L218,16.4 Z" stroke="#8a8a8a" stroke-width="0.9" fill="#edf0f2" />
<path d="M227.3,0.8 L227.3,4.0 L230.5,4.0" stroke="#8a8a8a" stroke-width="0.6" fill="none" />
<path d="M211,5.5 L220.3,5.5 L223.5,8.7 L223.5,21.1 L211,21.1 Z" stroke="#8a8a8a" stroke-width="0.9" fill="#e6eef2" />
<path d="M220.3,5.5 L220.3,8.7 L223.5,8.7" stroke="#8a8a8a" stroke-width="0.6" fill="none" />
<line x1="215.6" y1="15" x2="225.6" y2="15" stroke="#2f6575" stroke-width="2.2" />
<path d="M228.6,15 L224.79999999999998,12 L224.79999999999998,18 Z" stroke="none" stroke-width="1" fill="#2f6575" />
<path d="M245.4,1.5 L257.0,1.5 L261.0,5.5 L261.0,21.2 L245.4,21.2 Z" stroke="#8a8a8a" stroke-width="0.9" fill="#edf0f2" />
<path d="M257.0,1.5 L257.0,5.5 L261.0,5.5" stroke="#8a8a8a" stroke-width="0.6" fill="none" />
<circle cx="255.9" cy="13.3" r="3.6" fill="#f4f4f4" stroke="#111" stroke-width="1.4" />
<line x1="258.5" y1="16" x2="263.2" y2="20.3" stroke="#111" stroke-width="2" stroke-linecap="round"/>
<path d="M376.7,0.8 L386.0,0.8 L389.2,4.0 L389.2,16.4 L376.7,16.4 Z" stroke="#8a8a8a" stroke-width="0.9" fill="#edf0f2" />
<path d="M386.0,0.8 L386.0,4.0 L389.2,4.0" stroke="#8a8a8a" stroke-width="0.6" fill="none" />
<path d="M383.7,5.5 L393.0,5.5 L396.2,8.7 L396.2,21.1 L383.7,21.1 Z" stroke="#8a8a8a" stroke-width="0.9" fill="#e6eef2" />
<path d="M393.0,5.5 L393.0,8.7 L396.2,8.7" stroke="#8a8a8a" stroke-width="0.6" fill="none" />
<line x1="382.5" y1="14.8" x2="391.9" y2="14.8" stroke="#2f6575" stroke-width="2.2" />
<path d="M379.5,14.8 L383.3,11.8 L383.3,17.8 Z" stroke="none" stroke-width="1" fill="#2f6575" />
<path d="M416.5,0.8 L425.8,0.8 L429.0,4.0 L429.0,16.4 L416.5,16.4 Z" stroke="#8a8a8a" stroke-width="0.9" fill="#edf0f2" />
<path d="M425.8,0.8 L425.8,4.0 L429.0,4.0" stroke="#8a8a8a" stroke-width="0.6" fill="none" />
<path d="M409.5,5.5 L418.8,5.5 L422.0,8.7 L422.0,21.1 L409.5,21.1 Z" stroke="#8a8a8a" stroke-width="0.9" fill="#e6eef2" />
<path d="M418.8,5.5 L418.8,8.7 L422.0,8.7" stroke="#8a8a8a" stroke-width="0.6" fill="none" />
<line x1="414.1" y1="15" x2="424.1" y2="15" stroke="#2f6575" stroke-width="2.2" />
<path d="M427.1,15 L423.3,12 L423.3,18 Z" stroke="none" stroke-width="1" fill="#2f6575" />
<path d="M443.5,1.5 L455.1,1.5 L459.1,5.5 L459.1,21.2 L443.5,21.2 Z" stroke="#8a8a8a" stroke-width="0.9" fill="#edf0f2" />
<path d="M455.1,1.5 L455.1,5.5 L459.1,5.5" stroke="#8a8a8a" stroke-width="0.6" fill="none" />
<circle cx="454.0" cy="13.3" r="3.6" fill="#f4f4f4" stroke="#111" stroke-width="1.4" />
<line x1="456.6" y1="16" x2="461.3" y2="20.3" stroke="#111" stroke-width="2" stroke-linecap="round"/>
<rect x="290.7" y="4.1" width="21.3" height="16.4" fill="#dfe6ea" stroke="#7a7a7a" stroke-width="1.1" />
<path d="M292.9,6.8 L298.79999999999995,6.8 L301.29999999999995,9.3 L301.29999999999995,20.2 L292.9,20.2 Z" stroke="#888" stroke-width="0.9" fill="#e8f0f4" />
<path d="M298.79999999999995,6.8 L298.79999999999995,9.3 L301.29999999999995,9.3" stroke="#888" stroke-width="0.6" fill="none" />
<path d="M301.9,6.8 L307.79999999999995,6.8 L310.29999999999995,9.3 L310.29999999999995,20.2 L301.9,20.2 Z" stroke="#888" stroke-width="0.9" fill="#e8f0f4" />
<path d="M307.79999999999995,6.8 L307.79999999999995,9.3 L310.29999999999995,9.3" stroke="#888" stroke-width="0.6" fill="none" />
<line x1="301.4" y1="4.5" x2="301.4" y2="20.3" stroke="#777" stroke-width="1" />
<line x1="298.0" y1="14.2" x2="307.7" y2="14.2" stroke="#2f6575" stroke-width="2.2" />
<path d="M295.0,14.2 L298.8,11.2 L298.8,17.2 Z" stroke="none" stroke-width="1" fill="#2f6575" />
<rect x="328.5" y="4.1" width="21.3" height="16.4" fill="#dfe6ea" stroke="#7a7a7a" stroke-width="1.1" />
<path d="M330.7,6.8 L336.59999999999997,6.8 L339.09999999999997,9.3 L339.09999999999997,20.2 L330.7,20.2 Z" stroke="#888" stroke-width="0.9" fill="#e8f0f4" />
<path d="M336.59999999999997,6.8 L336.59999999999997,9.3 L339.09999999999997,9.3" stroke="#888" stroke-width="0.6" fill="none" />
<path d="M339.7,6.8 L345.59999999999997,6.8 L348.09999999999997,9.3 L348.09999999999997,20.2 L339.7,20.2 Z" stroke="#888" stroke-width="0.9" fill="#e8f0f4" />
<path d="M345.59999999999997,6.8 L345.59999999999997,9.3 L348.09999999999997,9.3" stroke="#888" stroke-width="0.6" fill="none" />
<line x1="339.2" y1="4.5" x2="339.2" y2="20.3" stroke="#777" stroke-width="1" />
<line x1="332.8" y1="14.2" x2="342.5" y2="14.2" stroke="#2f6575" stroke-width="2.2" />
<path d="M345.5,14.2 L341.7,11.2 L341.7,17.2 Z" stroke="none" stroke-width="1" fill="#2f6575" />
<line x1="487.2" y1="7.5" x2="494.6" y2="7.5" stroke="#5b8a4b" stroke-width="2.2" />
<path d="M495,5.9 L497.2,7.5 L495,9.1 Z" stroke="#777" stroke-width="0.7" fill="#fff" />
<rect x="499.55" y="7.15" width="1.5" height="1.5" fill="#111" stroke="none" stroke-width="1" />
<rect x="502.15000000000003" y="7.15" width="1.5" height="1.5" fill="#111" stroke="none" stroke-width="1" />
<rect x="504.75000000000006" y="7.15" width="1.5" height="1.5" fill="#111" stroke="none" stroke-width="1" />
<rect x="504.75" y="9.75" width="1.5" height="1.5" fill="#111" stroke="none" stroke-width="1" />
<rect x="504.75" y="12.45" width="1.5" height="1.5" fill="#111" stroke="none" stroke-width="1" />
<rect x="504.75" y="15.149999999999999" width="1.5" height="1.5" fill="#111" stroke="none" stroke-width="1" />
<rect x="526.15" y="4.05" width="1.5" height="1.5" fill="#111" stroke="none" stroke-width="1" />
<rect x="526.15" y="6.75" width="1.5" height="1.5" fill="#111" stroke="none" stroke-width="1" />
<rect x="526.15" y="9.45" width="1.5" height="1.5" fill="#111" stroke="none" stroke-width="1" />
<rect x="526.15" y="12.149999999999999" width="1.5" height="1.5" fill="#111" stroke="none" stroke-width="1" />
<rect x="526.15" y="13.95" width="1.5" height="1.5" fill="#111" stroke="none" stroke-width="1" />
<rect x="528.75" y="13.95" width="1.5" height="1.5" fill="#111" stroke="none" stroke-width="1" />
<path d="M532.3,13.1 L534.5,14.7 L532.3,16.3 Z" stroke="#777" stroke-width="0.7" fill="#fff" />
<line x1="535.5" y1="14.7" x2="545" y2="14.7" stroke="#5b8a4b" stroke-width="2.2" />
<rect x="578.4" y="1.8" width="19" height="19.6" fill="#eef2f2" stroke="#555" stroke-width="1" />
<rect x="578.9" y="2.3" width="18" height="2.4" fill="#4a7078" stroke="none" stroke-width="1" />
<rect x="578.9" y="10.6" width="18" height="4" fill="#55808a" stroke="none" stroke-width="1" />
<line x1="578.4" y1="14.7" x2="597.4" y2="14.7" stroke="#444" stroke-width="0.8" />
<rect x="614.7" y="1.8" width="20.2" height="19.5" fill="#f2ecee" stroke="#4a5a68" stroke-width="1.1" />
<rect x="615.2" y="2.3" width="19.2" height="2.4" fill="#4d6070" stroke="none" stroke-width="1" />
<rect x="624.3" y="2" width="1.6" height="19" fill="#5a6068" stroke="none" stroke-width="1" />
</svg>
</body></html>
